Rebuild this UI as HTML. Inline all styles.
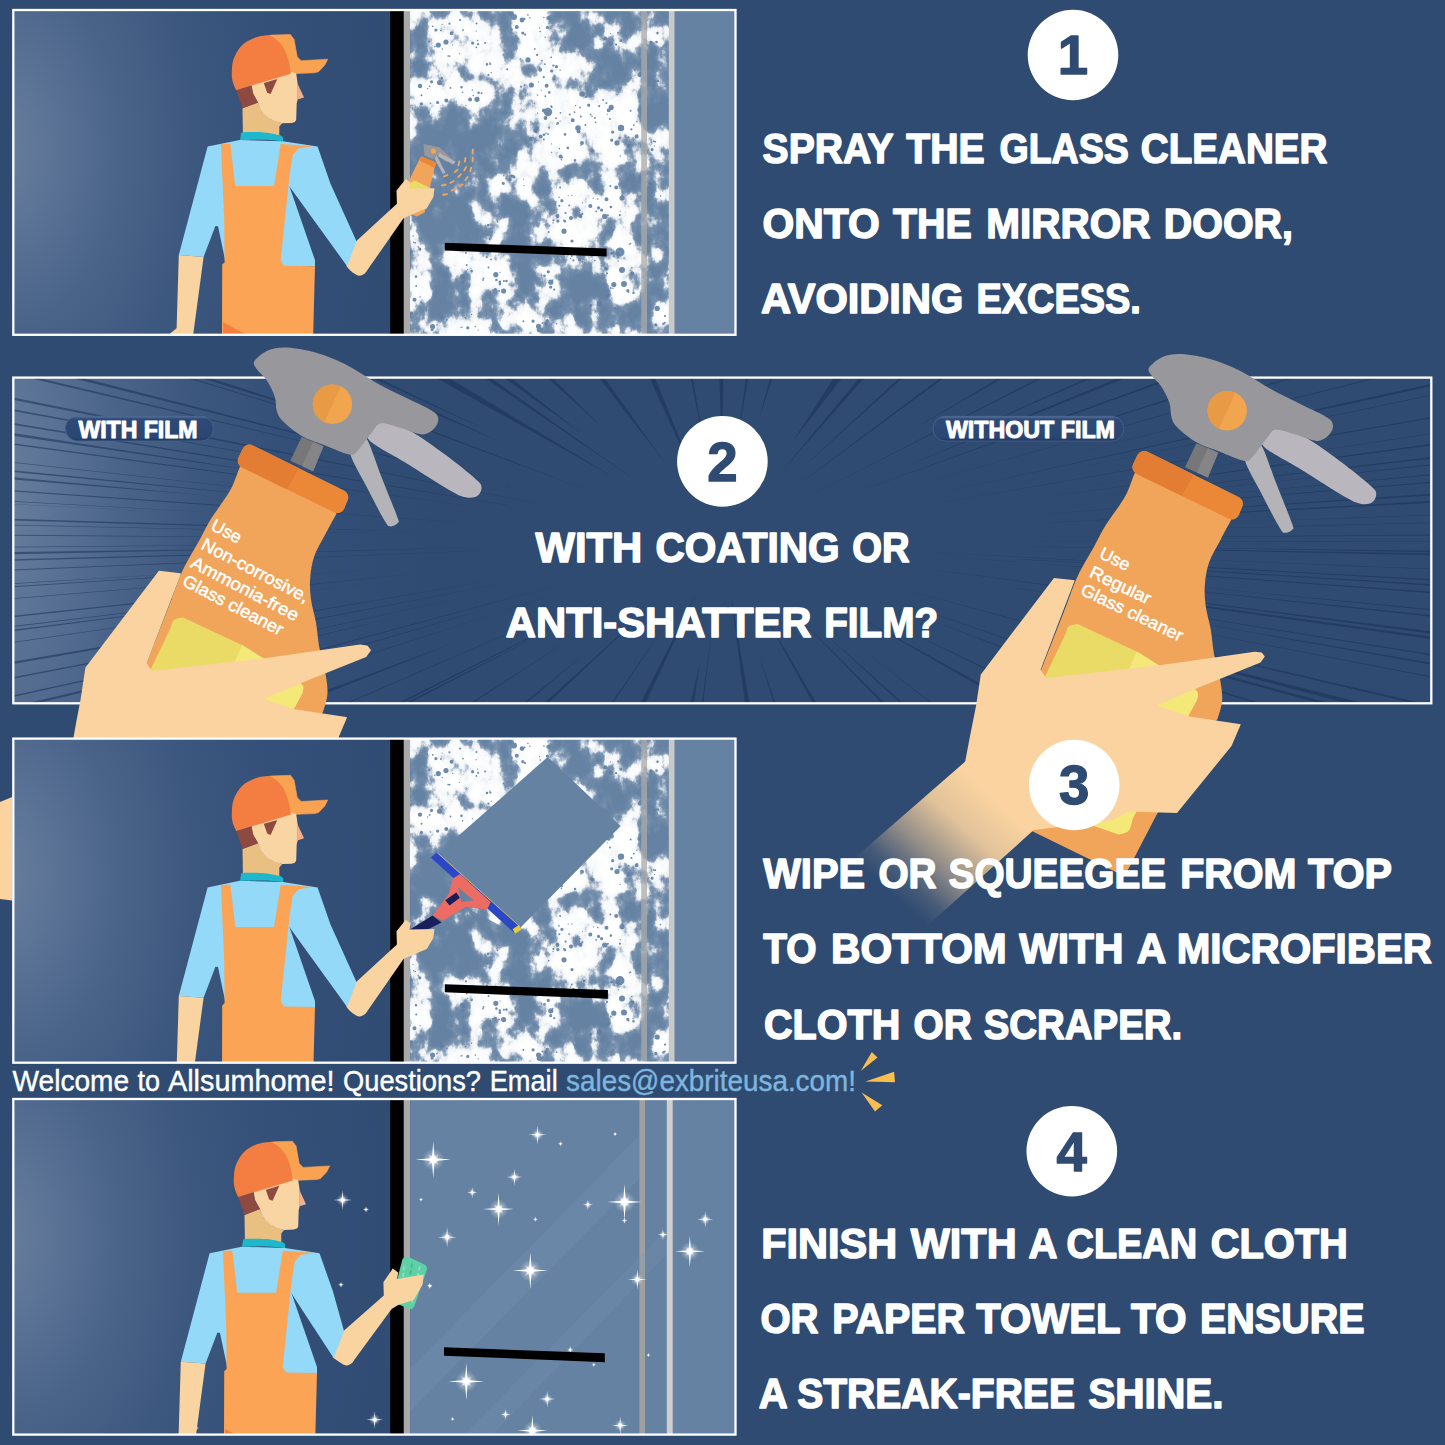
<!DOCTYPE html>
<html lang="en">
<head>
<meta charset="utf-8">
<title>How to clean a mirror door</title>
<style>
html,body{margin:0;padding:0;background:#2f4b72;}
body{width:1445px;height:1445px;overflow:hidden;position:relative;font-family:"Liberation Sans",sans-serif;}
svg{position:absolute;left:0;top:0;display:block}
text{font-family:"Liberation Sans",sans-serif;}
.h{font-weight:700;font-size:42.3px;fill:#fff;stroke:#fff;stroke-width:1.5px;stroke-linejoin:round;}
.w{font-weight:400;font-size:28.6px;fill:#fff;stroke:#fff;stroke-width:0.4px;}
.pl{font-weight:700;font-size:23.2px;fill:#fff;stroke:#fff;stroke-width:1px;stroke-linejoin:round;}
.lb{font-weight:400;font-size:17.6px;fill:#fff;stroke:#fff;stroke-width:0.45px;}
.num{font-weight:700;font-size:54.6px;fill:#2f4b72;stroke:#2f4b72;stroke-width:1.3px;stroke-linejoin:round;text-anchor:middle;}
</style>
</head>
<body>
<svg width="1445" height="1445" viewBox="0 0 1445 1445">
<defs>
<radialGradient id="lg" gradientUnits="userSpaceOnUse" cx="0" cy="150" r="430" gradientTransform="translate(0 150) scale(1 1.5) translate(0 -150)">
<stop offset="0" stop-color="#687e9e"/><stop offset="0.12" stop-color="#5c7496"/><stop offset="0.28" stop-color="#4a6389"/><stop offset="0.45" stop-color="#3d587f"/><stop offset="0.65" stop-color="#345078"/><stop offset="1" stop-color="#2f4b72"/>
</radialGradient>
<filter id="foam" filterUnits="userSpaceOnUse" x="410.2" y="9" width="258.6" height="330" color-interpolation-filters="sRGB">
<feGaussianBlur in="SourceGraphic" stdDeviation="7" result="bias"/>
<feTurbulence type="fractalNoise" baseFrequency="0.05 0.04" numOctaves="5" seed="33" result="t"/>
<feColorMatrix in="t" type="matrix" values="1 0 0 0 0  1 0 0 0 0  1 0 0 0 0  0 0 0 0 1" result="n"/>
<feComposite in="n" in2="bias" operator="arithmetic" k1="0" k2="1" k3="0.55" k4="-0.3050" result="v"/>
<feColorMatrix in="v" type="matrix" values="0 0 0 0 1  0 0 0 0 1  0 0 0 0 1  1 0 0 0 0" result="va"/>
<feComponentTransfer in="va"><feFuncA type="table" tableValues="0 0 0 0 0 0 0 0.02 0.05 0.09 0.16 0.5 0.88 0.95 0.97 0.98 1 1 1 1 1"/></feComponentTransfer>
</filter>
<g id="foambias"><rect x="400" y="0" width="280" height="345" fill="#808080"/>
<rect x="400" y="175" width="280" height="170" fill="#000" opacity="0.1"/>
<ellipse cx="458" cy="37" rx="34" ry="25" fill="#fff" opacity="1"/>
<ellipse cx="449" cy="94" rx="40" ry="19" fill="#fff" opacity="1"/>
<ellipse cx="529" cy="28" rx="30" ry="21" fill="#fff" opacity="1"/>
<ellipse cx="523" cy="68" rx="42" ry="25" fill="#fff" opacity="0.8"/>
<ellipse cx="567" cy="119" rx="48" ry="48" fill="#fff" opacity="1"/>
<ellipse cx="620" cy="129" rx="21" ry="34" fill="#fff" opacity="1"/>
<ellipse cx="614" cy="43" rx="13" ry="17" fill="#fff" opacity="0.6"/>
<ellipse cx="639" cy="75" rx="8" ry="8" fill="#fff" opacity="0.8"/>
<ellipse cx="515" cy="183" rx="21" ry="15" fill="#fff" opacity="1"/>
<ellipse cx="565" cy="214" rx="25" ry="32" fill="#fff" opacity="1"/>
<ellipse cx="610" cy="204" rx="23" ry="25" fill="#fff" opacity="0.9"/>
<ellipse cx="620" cy="273" rx="19" ry="42" fill="#fff" opacity="1"/>
<ellipse cx="492" cy="278" rx="21" ry="29" fill="#fff" opacity="1"/>
<ellipse cx="416" cy="284" rx="8" ry="46" fill="#fff" opacity="0.9"/>
<ellipse cx="466" cy="269" rx="10" ry="19" fill="#fff" opacity="0.9"/>
<ellipse cx="546" cy="286" rx="11" ry="17" fill="#fff" opacity="0.9"/>
<ellipse cx="462" cy="324" rx="38" ry="13" fill="#fff" opacity="0.9"/>
<ellipse cx="538" cy="324" rx="29" ry="12" fill="#fff" opacity="0.9"/>
<ellipse cx="595" cy="299" rx="8" ry="11" fill="#fff" opacity="0.8"/>
<ellipse cx="576" cy="259" rx="25" ry="9" fill="#fff" opacity="0.8"/>
<ellipse cx="494" cy="231" rx="17" ry="13" fill="#fff" opacity="0.8"/>
<ellipse cx="418" cy="246" rx="9" ry="15" fill="#fff" opacity="0.9"/>
<ellipse cx="658" cy="189" rx="10" ry="15" fill="#fff" opacity="0.9"/>
<ellipse cx="662" cy="252" rx="7" ry="11" fill="#fff" opacity="0.9"/>
<ellipse cx="662" cy="318" rx="9" ry="15" fill="#fff" opacity="0.9"/>
<ellipse cx="660" cy="85" rx="8" ry="9" fill="#fff" opacity="0.7"/>
<ellipse cx="658" cy="146" rx="9" ry="11" fill="#fff" opacity="0.7"/>
<ellipse cx="655" cy="40" rx="6" ry="10" fill="#fff" opacity="0.4"/>
<ellipse cx="614" cy="72" rx="17" ry="17" fill="#000" opacity="0.9"/>
<ellipse cx="576" cy="26" rx="13" ry="13" fill="#000" opacity="0.6"/>
<ellipse cx="452" cy="150" rx="40" ry="25" fill="#000" opacity="0.9"/>
<ellipse cx="500" cy="30" rx="7" ry="10" fill="#000" opacity="0.8"/>
<ellipse cx="531" cy="129" rx="11" ry="10" fill="#000" opacity="0.8"/>
<ellipse cx="443" cy="218" rx="27" ry="27" fill="#000" opacity="0.9"/>
<ellipse cx="523" cy="246" rx="10" ry="44" fill="#000" opacity="0.9"/>
<ellipse cx="586" cy="294" rx="17" ry="27" fill="#000" opacity="0.8"/>
<ellipse cx="443" cy="294" rx="11" ry="29" fill="#000" opacity="0.9"/>
<ellipse cx="420" cy="60" rx="7" ry="30" fill="#000" opacity="0.7"/>
<ellipse cx="655" cy="110" rx="8" ry="20" fill="#000" opacity="0.8"/>
<ellipse cx="655" cy="285" rx="6" ry="18" fill="#000" opacity="0.8"/>
<ellipse cx="600" cy="240" rx="10" ry="12" fill="#000" opacity="0.6"/></g>
<g id="bubbles"><path d="M452.7 44.8m-0.6 0a0.6 0.6 0 1 0 1.2 0a0.6 0.6 0 1 0 -1.2 0M478.1 44.2m-1.1 0a1.1 1.1 0 1 0 2.2 0a1.1 1.1 0 1 0 -2.2 0M432.7 26.3m-0.9 0a0.9 0.9 0 1 0 1.8 0a0.9 0.9 0 1 0 -1.8 0M477.6 40.5m-0.7 0a0.7 0.7 0 1 0 1.4 0a0.7 0.7 0 1 0 -1.4 0M459.3 53.7m-0.6 0a0.6 0.6 0 1 0 1.2 0a0.6 0.6 0 1 0 -1.2 0M463.0 30.0m-0.9 0a0.9 0.9 0 1 0 1.8 0a0.9 0.9 0 1 0 -1.8 0M442.1 24.4m-0.6 0a0.6 0.6 0 1 0 1.2 0a0.6 0.6 0 1 0 -1.2 0M440.9 30.4m-0.9 0a0.9 0.9 0 1 0 1.8 0a0.9 0.9 0 1 0 -1.8 0M485.1 43.0m-1.0 0a1.0 1.0 0 1 0 2.0 0a1.0 1.0 0 1 0 -2.0 0M438.3 45.0m-2.6 0a2.6 2.6 0 1 0 5.2 0a2.6 2.6 0 1 0 -5.2 0M448.1 56.0m-0.8 0a0.8 0.8 0 1 0 1.6 0a0.8 0.8 0 1 0 -1.6 0M476.4 47.3m-0.9 0a0.9 0.9 0 1 0 1.8 0a0.9 0.9 0 1 0 -1.8 0M442.3 49.0m-0.7 0a0.7 0.7 0 1 0 1.4 0a0.7 0.7 0 1 0 -1.4 0M435.9 30.0m-1.6 0a1.6 1.6 0 1 0 3.2 0a1.6 1.6 0 1 0 -3.2 0M449.5 23.7m-1.1 0a1.1 1.1 0 1 0 2.2 0a1.1 1.1 0 1 0 -2.2 0M429.3 41.6m-1.1 0a1.1 1.1 0 1 0 2.2 0a1.1 1.1 0 1 0 -2.2 0M449.6 56.1m-0.9 0a0.9 0.9 0 1 0 1.8 0a0.9 0.9 0 1 0 -1.8 0M472.6 43.1m-1.6 0a1.6 1.6 0 1 0 3.2 0a1.6 1.6 0 1 0 -3.2 0M476.5 23.4m-1.0 0a1.0 1.0 0 1 0 2.0 0a1.0 1.0 0 1 0 -2.0 0M451.6 33.2m-2.0 0a2.0 2.0 0 1 0 4.0 0a2.0 2.0 0 1 0 -4.0 0M434.8 46.6m-0.8 0a0.8 0.8 0 1 0 1.6 0a0.8 0.8 0 1 0 -1.6 0M476.1 31.1m-0.7 0a0.7 0.7 0 1 0 1.4 0a0.7 0.7 0 1 0 -1.4 0M460.1 20.0m-1.1 0a1.1 1.1 0 1 0 2.2 0a1.1 1.1 0 1 0 -2.2 0M437.6 102.5m-1.6 0a1.6 1.6 0 1 0 3.2 0a1.6 1.6 0 1 0 -3.2 0M427.7 88.4m-0.7 0a0.7 0.7 0 1 0 1.4 0a0.7 0.7 0 1 0 -1.4 0M472.3 90.0m-0.7 0a0.7 0.7 0 1 0 1.4 0a0.7 0.7 0 1 0 -1.4 0M477.0 99.3m-2.6 0a2.6 2.6 0 1 0 5.2 0a2.6 2.6 0 1 0 -5.2 0M481.6 93.3m-1.0 0a1.0 1.0 0 1 0 2.0 0a1.0 1.0 0 1 0 -2.0 0M441.9 78.2m-1.1 0a1.1 1.1 0 1 0 2.2 0a1.1 1.1 0 1 0 -2.2 0M473.2 95.6m-0.8 0a0.8 0.8 0 1 0 1.6 0a0.8 0.8 0 1 0 -1.6 0M429.6 86.3m-0.9 0a0.9 0.9 0 1 0 1.8 0a0.9 0.9 0 1 0 -1.8 0M450.5 87.9m-0.9 0a0.9 0.9 0 1 0 1.8 0a0.9 0.9 0 1 0 -1.8 0M421.4 103.8m-1.6 0a1.6 1.6 0 1 0 3.2 0a1.6 1.6 0 1 0 -3.2 0M470.1 99.6m-2.0 0a2.0 2.0 0 1 0 4.0 0a2.0 2.0 0 1 0 -4.0 0M446.7 100.2m-1.3 0a1.3 1.3 0 1 0 2.6 0a1.3 1.3 0 1 0 -2.6 0M461.5 87.2m-1.3 0a1.3 1.3 0 1 0 2.6 0a1.3 1.3 0 1 0 -2.6 0M478.6 92.8m-1.3 0a1.3 1.3 0 1 0 2.6 0a1.3 1.3 0 1 0 -2.6 0M462.5 92.3m-0.8 0a0.8 0.8 0 1 0 1.6 0a0.8 0.8 0 1 0 -1.6 0M466.0 105.3m-0.6 0a0.6 0.6 0 1 0 1.2 0a0.6 0.6 0 1 0 -1.2 0M421.5 95.2m-1.0 0a1.0 1.0 0 1 0 2.0 0a1.0 1.0 0 1 0 -2.0 0M446.3 100.4m-2.0 0a2.0 2.0 0 1 0 4.0 0a2.0 2.0 0 1 0 -4.0 0M430.5 103.4m-0.8 0a0.8 0.8 0 1 0 1.6 0a0.8 0.8 0 1 0 -1.6 0M439.6 82.6m-2.6 0a2.6 2.6 0 1 0 5.2 0a2.6 2.6 0 1 0 -5.2 0M431.6 81.8m-1.6 0a1.6 1.6 0 1 0 3.2 0a1.6 1.6 0 1 0 -3.2 0M548.3 18.1m-2.0 0a2.0 2.0 0 1 0 4.0 0a2.0 2.0 0 1 0 -4.0 0M515.7 35.5m-0.7 0a0.7 0.7 0 1 0 1.4 0a0.7 0.7 0 1 0 -1.4 0M512.0 29.4m-0.9 0a0.9 0.9 0 1 0 1.8 0a0.9 0.9 0 1 0 -1.8 0M540.2 31.5m-0.8 0a0.8 0.8 0 1 0 1.6 0a0.8 0.8 0 1 0 -1.6 0M545.1 37.3m-0.7 0a0.7 0.7 0 1 0 1.4 0a0.7 0.7 0 1 0 -1.4 0M539.5 28.0m-0.7 0a0.7 0.7 0 1 0 1.4 0a0.7 0.7 0 1 0 -1.4 0M549.1 23.3m-0.7 0a0.7 0.7 0 1 0 1.4 0a0.7 0.7 0 1 0 -1.4 0M543.9 17.5m-0.8 0a0.8 0.8 0 1 0 1.6 0a0.8 0.8 0 1 0 -1.6 0M511.5 14.2m-2.6 0a2.6 2.6 0 1 0 5.2 0a2.6 2.6 0 1 0 -5.2 0M522.8 33.0m-1.6 0a1.6 1.6 0 1 0 3.2 0a1.6 1.6 0 1 0 -3.2 0M547.4 27.4m-1.6 0a1.6 1.6 0 1 0 3.2 0a1.6 1.6 0 1 0 -3.2 0M525.1 34.6m-1.1 0a1.1 1.1 0 1 0 2.2 0a1.1 1.1 0 1 0 -2.2 0M527.9 14.9m-0.8 0a0.8 0.8 0 1 0 1.6 0a0.8 0.8 0 1 0 -1.6 0M516.8 27.1m-2.0 0a2.0 2.0 0 1 0 4.0 0a2.0 2.0 0 1 0 -4.0 0M514.5 40.0m-0.6 0a0.6 0.6 0 1 0 1.2 0a0.6 0.6 0 1 0 -1.2 0M529.8 17.7m-0.7 0a0.7 0.7 0 1 0 1.4 0a0.7 0.7 0 1 0 -1.4 0M524.4 18.9m-1.1 0a1.1 1.1 0 1 0 2.2 0a1.1 1.1 0 1 0 -2.2 0M541.9 60.7m-0.9 0a0.9 0.9 0 1 0 1.8 0a0.9 0.9 0 1 0 -1.8 0M490.3 64.0m-1.1 0a1.1 1.1 0 1 0 2.2 0a1.1 1.1 0 1 0 -2.2 0M503.6 54.7m-0.9 0a0.9 0.9 0 1 0 1.8 0a0.9 0.9 0 1 0 -1.8 0M534.8 48.9m-0.9 0a0.9 0.9 0 1 0 1.8 0a0.9 0.9 0 1 0 -1.8 0M531.2 83.0m-0.6 0a0.6 0.6 0 1 0 1.2 0a0.6 0.6 0 1 0 -1.2 0M556.5 66.7m-1.6 0a1.6 1.6 0 1 0 3.2 0a1.6 1.6 0 1 0 -3.2 0M521.2 86.7m-1.1 0a1.1 1.1 0 1 0 2.2 0a1.1 1.1 0 1 0 -2.2 0M488.4 75.1m-1.1 0a1.1 1.1 0 1 0 2.2 0a1.1 1.1 0 1 0 -2.2 0M544.9 64.2m-0.9 0a0.9 0.9 0 1 0 1.8 0a0.9 0.9 0 1 0 -1.8 0M543.8 77.2m-1.1 0a1.1 1.1 0 1 0 2.2 0a1.1 1.1 0 1 0 -2.2 0M531.4 85.0m-2.6 0a2.6 2.6 0 1 0 5.2 0a2.6 2.6 0 1 0 -5.2 0M537.1 54.9m-1.1 0a1.1 1.1 0 1 0 2.2 0a1.1 1.1 0 1 0 -2.2 0M526.4 61.8m-0.7 0a0.7 0.7 0 1 0 1.4 0a0.7 0.7 0 1 0 -1.4 0M551.2 57.3m-0.9 0a0.9 0.9 0 1 0 1.8 0a0.9 0.9 0 1 0 -1.8 0M507.2 69.3m-1.1 0a1.1 1.1 0 1 0 2.2 0a1.1 1.1 0 1 0 -2.2 0M554.4 79.3m-1.3 0a1.3 1.3 0 1 0 2.6 0a1.3 1.3 0 1 0 -2.6 0M491.3 72.5m-0.7 0a0.7 0.7 0 1 0 1.4 0a0.7 0.7 0 1 0 -1.4 0M520.5 58.8m-0.8 0a0.8 0.8 0 1 0 1.6 0a0.8 0.8 0 1 0 -1.6 0M551.6 71.0m-1.6 0a1.6 1.6 0 1 0 3.2 0a1.6 1.6 0 1 0 -3.2 0M528.0 59.9m-2.6 0a2.6 2.6 0 1 0 5.2 0a2.6 2.6 0 1 0 -5.2 0M553.4 65.7m-1.1 0a1.1 1.1 0 1 0 2.2 0a1.1 1.1 0 1 0 -2.2 0M538.6 81.8m-0.6 0a0.6 0.6 0 1 0 1.2 0a0.6 0.6 0 1 0 -1.2 0M560.1 70.0m-0.7 0a0.7 0.7 0 1 0 1.4 0a0.7 0.7 0 1 0 -1.4 0M487.0 64.4m-1.3 0a1.3 1.3 0 1 0 2.6 0a1.3 1.3 0 1 0 -2.6 0M539.6 67.2m-0.9 0a0.9 0.9 0 1 0 1.8 0a0.9 0.9 0 1 0 -1.8 0M540.2 69.8m-2.0 0a2.0 2.0 0 1 0 4.0 0a2.0 2.0 0 1 0 -4.0 0M524.7 85.2m-1.0 0a1.0 1.0 0 1 0 2.0 0a1.0 1.0 0 1 0 -2.0 0M489.8 62.3m-0.6 0a0.6 0.6 0 1 0 1.2 0a0.6 0.6 0 1 0 -1.2 0M588.7 105.2m-1.6 0a1.6 1.6 0 1 0 3.2 0a1.6 1.6 0 1 0 -3.2 0M546.6 85.7m-2.0 0a2.0 2.0 0 1 0 4.0 0a2.0 2.0 0 1 0 -4.0 0M530.7 138.8m-2.0 0a2.0 2.0 0 1 0 4.0 0a2.0 2.0 0 1 0 -4.0 0M578.5 131.3m-2.0 0a2.0 2.0 0 1 0 4.0 0a2.0 2.0 0 1 0 -4.0 0M595.5 122.4m-0.8 0a0.8 0.8 0 1 0 1.6 0a0.8 0.8 0 1 0 -1.6 0M537.5 95.0m-0.8 0a0.8 0.8 0 1 0 1.6 0a0.8 0.8 0 1 0 -1.6 0M580.9 145.3m-0.7 0a0.7 0.7 0 1 0 1.4 0a0.7 0.7 0 1 0 -1.4 0M543.9 110.4m-2.0 0a2.0 2.0 0 1 0 4.0 0a2.0 2.0 0 1 0 -4.0 0M537.6 113.2m-0.7 0a0.7 0.7 0 1 0 1.4 0a0.7 0.7 0 1 0 -1.4 0M574.6 112.1m-0.9 0a0.9 0.9 0 1 0 1.8 0a0.9 0.9 0 1 0 -1.8 0M560.6 156.4m-2.0 0a2.0 2.0 0 1 0 4.0 0a2.0 2.0 0 1 0 -4.0 0M560.1 121.1m-0.7 0a0.7 0.7 0 1 0 1.4 0a0.7 0.7 0 1 0 -1.4 0M535.3 130.8m-2.0 0a2.0 2.0 0 1 0 4.0 0a2.0 2.0 0 1 0 -4.0 0M551.8 107.1m-1.0 0a1.0 1.0 0 1 0 2.0 0a1.0 1.0 0 1 0 -2.0 0M536.9 128.3m-1.6 0a1.6 1.6 0 1 0 3.2 0a1.6 1.6 0 1 0 -3.2 0M545.5 118.0m-2.0 0a2.0 2.0 0 1 0 4.0 0a2.0 2.0 0 1 0 -4.0 0M596.9 89.6m-1.0 0a1.0 1.0 0 1 0 2.0 0a1.0 1.0 0 1 0 -2.0 0M603.1 100.0m-0.9 0a0.9 0.9 0 1 0 1.8 0a0.9 0.9 0 1 0 -1.8 0M575.6 105.5m-0.7 0a0.7 0.7 0 1 0 1.4 0a0.7 0.7 0 1 0 -1.4 0M548.1 134.2m-0.9 0a0.9 0.9 0 1 0 1.8 0a0.9 0.9 0 1 0 -1.8 0M549.1 127.7m-1.0 0a1.0 1.0 0 1 0 2.0 0a1.0 1.0 0 1 0 -2.0 0M575.7 79.0m-0.8 0a0.8 0.8 0 1 0 1.6 0a0.8 0.8 0 1 0 -1.6 0M599.2 106.1m-1.1 0a1.1 1.1 0 1 0 2.2 0a1.1 1.1 0 1 0 -2.2 0M592.3 150.8m-1.6 0a1.6 1.6 0 1 0 3.2 0a1.6 1.6 0 1 0 -3.2 0M575.0 160.4m-1.3 0a1.3 1.3 0 1 0 2.6 0a1.3 1.3 0 1 0 -2.6 0M580.1 107.5m-0.9 0a0.9 0.9 0 1 0 1.8 0a0.9 0.9 0 1 0 -1.8 0M582.0 143.1m-2.0 0a2.0 2.0 0 1 0 4.0 0a2.0 2.0 0 1 0 -4.0 0M543.9 134.9m-1.1 0a1.1 1.1 0 1 0 2.2 0a1.1 1.1 0 1 0 -2.2 0M551.7 152.4m-0.6 0a0.6 0.6 0 1 0 1.2 0a0.6 0.6 0 1 0 -1.2 0M551.6 143.9m-0.6 0a0.6 0.6 0 1 0 1.2 0a0.6 0.6 0 1 0 -1.2 0M543.8 139.6m-1.0 0a1.0 1.0 0 1 0 2.0 0a1.0 1.0 0 1 0 -2.0 0M556.1 118.2m-0.9 0a0.9 0.9 0 1 0 1.8 0a0.9 0.9 0 1 0 -1.8 0M580.8 116.5m-1.0 0a1.0 1.0 0 1 0 2.0 0a1.0 1.0 0 1 0 -2.0 0M561.4 159.7m-0.8 0a0.8 0.8 0 1 0 1.6 0a0.8 0.8 0 1 0 -1.6 0M565.0 134.4m-1.3 0a1.3 1.3 0 1 0 2.6 0a1.3 1.3 0 1 0 -2.6 0M587.8 90.2m-1.0 0a1.0 1.0 0 1 0 2.0 0a1.0 1.0 0 1 0 -2.0 0M540.7 136.6m-2.0 0a2.0 2.0 0 1 0 4.0 0a2.0 2.0 0 1 0 -4.0 0M534.3 103.5m-0.7 0a0.7 0.7 0 1 0 1.4 0a0.7 0.7 0 1 0 -1.4 0M560.0 157.0m-0.8 0a0.8 0.8 0 1 0 1.6 0a0.8 0.8 0 1 0 -1.6 0M556.6 124.3m-0.6 0a0.6 0.6 0 1 0 1.2 0a0.6 0.6 0 1 0 -1.2 0M541.3 90.1m-0.7 0a0.7 0.7 0 1 0 1.4 0a0.7 0.7 0 1 0 -1.4 0M551.2 106.2m-1.0 0a1.0 1.0 0 1 0 2.0 0a1.0 1.0 0 1 0 -2.0 0M585.9 96.9m-1.1 0a1.1 1.1 0 1 0 2.2 0a1.1 1.1 0 1 0 -2.2 0M594.9 118.0m-1.0 0a1.0 1.0 0 1 0 2.0 0a1.0 1.0 0 1 0 -2.0 0M560.5 112.8m-0.9 0a0.9 0.9 0 1 0 1.8 0a0.9 0.9 0 1 0 -1.8 0M606.4 102.9m-1.0 0a1.0 1.0 0 1 0 2.0 0a1.0 1.0 0 1 0 -2.0 0M585.4 125.0m-1.0 0a1.0 1.0 0 1 0 2.0 0a1.0 1.0 0 1 0 -2.0 0M545.3 96.2m-0.9 0a0.9 0.9 0 1 0 1.8 0a0.9 0.9 0 1 0 -1.8 0M559.4 148.6m-0.8 0a0.8 0.8 0 1 0 1.6 0a0.8 0.8 0 1 0 -1.6 0M562.0 157.4m-1.0 0a1.0 1.0 0 1 0 2.0 0a1.0 1.0 0 1 0 -2.0 0M572.7 120.3m-2.0 0a2.0 2.0 0 1 0 4.0 0a2.0 2.0 0 1 0 -4.0 0M549.2 113.1m-1.6 0a1.6 1.6 0 1 0 3.2 0a1.6 1.6 0 1 0 -3.2 0M567.8 147.9m-1.3 0a1.3 1.3 0 1 0 2.6 0a1.3 1.3 0 1 0 -2.6 0M549.3 92.4m-1.3 0a1.3 1.3 0 1 0 2.6 0a1.3 1.3 0 1 0 -2.6 0M590.6 114.6m-0.9 0a0.9 0.9 0 1 0 1.8 0a0.9 0.9 0 1 0 -1.8 0M592.1 116.2m-0.8 0a0.8 0.8 0 1 0 1.6 0a0.8 0.8 0 1 0 -1.6 0M546.0 133.4m-0.6 0a0.6 0.6 0 1 0 1.2 0a0.6 0.6 0 1 0 -1.2 0M569.7 114.6m-1.0 0a1.0 1.0 0 1 0 2.0 0a1.0 1.0 0 1 0 -2.0 0M557.8 123.3m-1.3 0a1.3 1.3 0 1 0 2.6 0a1.3 1.3 0 1 0 -2.6 0M630.6 110.8m-1.0 0a1.0 1.0 0 1 0 2.0 0a1.0 1.0 0 1 0 -2.0 0M607.2 114.2m-0.6 0a0.6 0.6 0 1 0 1.2 0a0.6 0.6 0 1 0 -1.2 0M612.7 132.1m-1.6 0a1.6 1.6 0 1 0 3.2 0a1.6 1.6 0 1 0 -3.2 0M631.4 129.4m-1.1 0a1.1 1.1 0 1 0 2.2 0a1.1 1.1 0 1 0 -2.2 0M633.8 125.1m-0.9 0a0.9 0.9 0 1 0 1.8 0a0.9 0.9 0 1 0 -1.8 0M637.3 135.2m-0.9 0a0.9 0.9 0 1 0 1.8 0a0.9 0.9 0 1 0 -1.8 0M619.6 129.8m-1.3 0a1.3 1.3 0 1 0 2.6 0a1.3 1.3 0 1 0 -2.6 0M628.6 137.1m-0.9 0a0.9 0.9 0 1 0 1.8 0a0.9 0.9 0 1 0 -1.8 0M620.2 156.0m-0.7 0a0.7 0.7 0 1 0 1.4 0a0.7 0.7 0 1 0 -1.4 0M619.5 138.1m-1.3 0a1.3 1.3 0 1 0 2.6 0a1.3 1.3 0 1 0 -2.6 0M609.9 119.0m-1.0 0a1.0 1.0 0 1 0 2.0 0a1.0 1.0 0 1 0 -2.0 0M617.0 142.9m-2.6 0a2.6 2.6 0 1 0 5.2 0a2.6 2.6 0 1 0 -5.2 0M636.8 121.6m-0.8 0a0.8 0.8 0 1 0 1.6 0a0.8 0.8 0 1 0 -1.6 0M611.2 107.4m-2.6 0a2.6 2.6 0 1 0 5.2 0a2.6 2.6 0 1 0 -5.2 0M611.7 140.2m-1.6 0a1.6 1.6 0 1 0 3.2 0a1.6 1.6 0 1 0 -3.2 0M629.5 150.0m-0.8 0a0.8 0.8 0 1 0 1.6 0a0.8 0.8 0 1 0 -1.6 0M636.6 136.6m-2.0 0a2.0 2.0 0 1 0 4.0 0a2.0 2.0 0 1 0 -4.0 0M608.7 110.2m-2.0 0a2.0 2.0 0 1 0 4.0 0a2.0 2.0 0 1 0 -4.0 0M628.8 146.0m-2.0 0a2.0 2.0 0 1 0 4.0 0a2.0 2.0 0 1 0 -4.0 0M604.4 37.2m-0.6 0a0.6 0.6 0 1 0 1.2 0a0.6 0.6 0 1 0 -1.2 0M618.1 32.6m-0.9 0a0.9 0.9 0 1 0 1.8 0a0.9 0.9 0 1 0 -1.8 0M616.1 44.6m-1.1 0a1.1 1.1 0 1 0 2.2 0a1.1 1.1 0 1 0 -2.2 0M620.9 40.6m-1.6 0a1.6 1.6 0 1 0 3.2 0a1.6 1.6 0 1 0 -3.2 0M605.3 38.6m-2.0 0a2.0 2.0 0 1 0 4.0 0a2.0 2.0 0 1 0 -4.0 0M610.5 33.3m-0.6 0a0.6 0.6 0 1 0 1.2 0a0.6 0.6 0 1 0 -1.2 0M611.0 44.1m-2.0 0a2.0 2.0 0 1 0 4.0 0a2.0 2.0 0 1 0 -4.0 0M640.7 73.7m-2.0 0a2.0 2.0 0 1 0 4.0 0a2.0 2.0 0 1 0 -4.0 0M644.7 77.5m-1.0 0a1.0 1.0 0 1 0 2.0 0a1.0 1.0 0 1 0 -2.0 0M641.4 68.8m-0.9 0a0.9 0.9 0 1 0 1.8 0a0.9 0.9 0 1 0 -1.8 0M513.9 176.9m-1.6 0a1.6 1.6 0 1 0 3.2 0a1.6 1.6 0 1 0 -3.2 0M503.3 183.3m-1.6 0a1.6 1.6 0 1 0 3.2 0a1.6 1.6 0 1 0 -3.2 0M523.6 179.1m-0.6 0a0.6 0.6 0 1 0 1.2 0a0.6 0.6 0 1 0 -1.2 0M503.8 175.7m-0.7 0a0.7 0.7 0 1 0 1.4 0a0.7 0.7 0 1 0 -1.4 0M506.2 178.4m-1.0 0a1.0 1.0 0 1 0 2.0 0a1.0 1.0 0 1 0 -2.0 0M510.0 179.6m-1.6 0a1.6 1.6 0 1 0 3.2 0a1.6 1.6 0 1 0 -3.2 0M524.1 185.6m-0.7 0a0.7 0.7 0 1 0 1.4 0a0.7 0.7 0 1 0 -1.4 0M509.5 172.6m-1.0 0a1.0 1.0 0 1 0 2.0 0a1.0 1.0 0 1 0 -2.0 0M512.4 176.0m-1.6 0a1.6 1.6 0 1 0 3.2 0a1.6 1.6 0 1 0 -3.2 0M557.4 216.1m-2.0 0a2.0 2.0 0 1 0 4.0 0a2.0 2.0 0 1 0 -4.0 0M572.0 241.0m-1.6 0a1.6 1.6 0 1 0 3.2 0a1.6 1.6 0 1 0 -3.2 0M580.2 216.1m-2.0 0a2.0 2.0 0 1 0 4.0 0a2.0 2.0 0 1 0 -4.0 0M579.8 210.2m-1.0 0a1.0 1.0 0 1 0 2.0 0a1.0 1.0 0 1 0 -2.0 0M548.7 232.0m-0.9 0a0.9 0.9 0 1 0 1.8 0a0.9 0.9 0 1 0 -1.8 0M571.0 217.9m-2.0 0a2.0 2.0 0 1 0 4.0 0a2.0 2.0 0 1 0 -4.0 0M564.0 231.2m-2.6 0a2.6 2.6 0 1 0 5.2 0a2.6 2.6 0 1 0 -5.2 0M571.9 195.4m-0.7 0a0.7 0.7 0 1 0 1.4 0a0.7 0.7 0 1 0 -1.4 0M561.9 200.7m-1.6 0a1.6 1.6 0 1 0 3.2 0a1.6 1.6 0 1 0 -3.2 0M557.9 221.1m-1.6 0a1.6 1.6 0 1 0 3.2 0a1.6 1.6 0 1 0 -3.2 0M559.0 197.3m-0.8 0a0.8 0.8 0 1 0 1.6 0a0.8 0.8 0 1 0 -1.6 0M553.1 222.9m-0.7 0a0.7 0.7 0 1 0 1.4 0a0.7 0.7 0 1 0 -1.4 0M565.5 213.0m-1.1 0a1.1 1.1 0 1 0 2.2 0a1.1 1.1 0 1 0 -2.2 0M569.1 205.5m-0.9 0a0.9 0.9 0 1 0 1.8 0a0.9 0.9 0 1 0 -1.8 0M560.1 187.4m-1.0 0a1.0 1.0 0 1 0 2.0 0a1.0 1.0 0 1 0 -2.0 0M564.9 221.3m-1.3 0a1.3 1.3 0 1 0 2.6 0a1.3 1.3 0 1 0 -2.6 0M582.3 213.8m-1.1 0a1.1 1.1 0 1 0 2.2 0a1.1 1.1 0 1 0 -2.2 0M582.5 202.7m-0.6 0a0.6 0.6 0 1 0 1.2 0a0.6 0.6 0 1 0 -1.2 0M564.0 220.4m-1.0 0a1.0 1.0 0 1 0 2.0 0a1.0 1.0 0 1 0 -2.0 0M559.3 205.7m-1.0 0a1.0 1.0 0 1 0 2.0 0a1.0 1.0 0 1 0 -2.0 0M553.4 220.3m-1.1 0a1.1 1.1 0 1 0 2.2 0a1.1 1.1 0 1 0 -2.2 0M568.2 195.6m-0.6 0a0.6 0.6 0 1 0 1.2 0a0.6 0.6 0 1 0 -1.2 0M616.2 187.5m-2.0 0a2.0 2.0 0 1 0 4.0 0a2.0 2.0 0 1 0 -4.0 0M593.3 198.2m-0.6 0a0.6 0.6 0 1 0 1.2 0a0.6 0.6 0 1 0 -1.2 0M622.1 198.1m-2.6 0a2.6 2.6 0 1 0 5.2 0a2.6 2.6 0 1 0 -5.2 0M610.3 185.9m-1.0 0a1.0 1.0 0 1 0 2.0 0a1.0 1.0 0 1 0 -2.0 0M590.3 205.9m-2.0 0a2.0 2.0 0 1 0 4.0 0a2.0 2.0 0 1 0 -4.0 0M619.9 215.1m-1.1 0a1.1 1.1 0 1 0 2.2 0a1.1 1.1 0 1 0 -2.2 0M607.9 215.2m-1.0 0a1.0 1.0 0 1 0 2.0 0a1.0 1.0 0 1 0 -2.0 0M601.6 210.1m-1.6 0a1.6 1.6 0 1 0 3.2 0a1.6 1.6 0 1 0 -3.2 0M597.8 199.0m-0.8 0a0.8 0.8 0 1 0 1.6 0a0.8 0.8 0 1 0 -1.6 0M606.5 199.2m-2.0 0a2.0 2.0 0 1 0 4.0 0a2.0 2.0 0 1 0 -4.0 0M622.1 195.2m-0.9 0a0.9 0.9 0 1 0 1.8 0a0.9 0.9 0 1 0 -1.8 0M598.6 207.8m-1.6 0a1.6 1.6 0 1 0 3.2 0a1.6 1.6 0 1 0 -3.2 0M596.2 211.3m-0.9 0a0.9 0.9 0 1 0 1.8 0a0.9 0.9 0 1 0 -1.8 0M620.2 211.1m-0.7 0a0.7 0.7 0 1 0 1.4 0a0.7 0.7 0 1 0 -1.4 0M604.7 216.4m-2.6 0a2.6 2.6 0 1 0 5.2 0a2.6 2.6 0 1 0 -5.2 0M610.9 207.0m-1.3 0a1.3 1.3 0 1 0 2.6 0a1.3 1.3 0 1 0 -2.6 0M609.1 294.9m-0.9 0a0.9 0.9 0 1 0 1.8 0a0.9 0.9 0 1 0 -1.8 0M612.9 288.4m-0.6 0a0.6 0.6 0 1 0 1.2 0a0.6 0.6 0 1 0 -1.2 0M607.0 273.3m-1.1 0a1.1 1.1 0 1 0 2.2 0a1.1 1.1 0 1 0 -2.2 0M628.5 292.1m-0.9 0a0.9 0.9 0 1 0 1.8 0a0.9 0.9 0 1 0 -1.8 0M633.5 292.7m-1.3 0a1.3 1.3 0 1 0 2.6 0a1.3 1.3 0 1 0 -2.6 0M610.8 287.9m-1.0 0a1.0 1.0 0 1 0 2.0 0a1.0 1.0 0 1 0 -2.0 0M629.3 244.3m-0.6 0a0.6 0.6 0 1 0 1.2 0a0.6 0.6 0 1 0 -1.2 0M627.8 290.7m-1.6 0a1.6 1.6 0 1 0 3.2 0a1.6 1.6 0 1 0 -3.2 0M631.7 267.8m-0.7 0a0.7 0.7 0 1 0 1.4 0a0.7 0.7 0 1 0 -1.4 0M607.2 295.9m-2.0 0a2.0 2.0 0 1 0 4.0 0a2.0 2.0 0 1 0 -4.0 0M630.4 243.6m-0.9 0a0.9 0.9 0 1 0 1.8 0a0.9 0.9 0 1 0 -1.8 0M621.7 255.5m-0.8 0a0.8 0.8 0 1 0 1.6 0a0.8 0.8 0 1 0 -1.6 0M606.0 268.6m-1.6 0a1.6 1.6 0 1 0 3.2 0a1.6 1.6 0 1 0 -3.2 0M633.0 290.0m-0.6 0a0.6 0.6 0 1 0 1.2 0a0.6 0.6 0 1 0 -1.2 0M621.7 255.1m-0.6 0a0.6 0.6 0 1 0 1.2 0a0.6 0.6 0 1 0 -1.2 0M614.2 256.5m-0.8 0a0.8 0.8 0 1 0 1.6 0a0.8 0.8 0 1 0 -1.6 0M611.3 253.4m-1.3 0a1.3 1.3 0 1 0 2.6 0a1.3 1.3 0 1 0 -2.6 0M618.2 261.0m-0.7 0a0.7 0.7 0 1 0 1.4 0a0.7 0.7 0 1 0 -1.4 0M614.8 307.9m-0.9 0a0.9 0.9 0 1 0 1.8 0a0.9 0.9 0 1 0 -1.8 0M613.8 284.6m-2.6 0a2.6 2.6 0 1 0 5.2 0a2.6 2.6 0 1 0 -5.2 0M632.5 273.2m-1.6 0a1.6 1.6 0 1 0 3.2 0a1.6 1.6 0 1 0 -3.2 0M490.1 292.4m-0.9 0a0.9 0.9 0 1 0 1.8 0a0.9 0.9 0 1 0 -1.8 0M483.0 280.0m-0.9 0a0.9 0.9 0 1 0 1.8 0a0.9 0.9 0 1 0 -1.8 0M503.9 281.1m-1.0 0a1.0 1.0 0 1 0 2.0 0a1.0 1.0 0 1 0 -2.0 0M499.8 281.9m-1.3 0a1.3 1.3 0 1 0 2.6 0a1.3 1.3 0 1 0 -2.6 0M499.9 284.1m-1.3 0a1.3 1.3 0 1 0 2.6 0a1.3 1.3 0 1 0 -2.6 0M500.0 272.4m-0.6 0a0.6 0.6 0 1 0 1.2 0a0.6 0.6 0 1 0 -1.2 0M486.7 257.1m-1.1 0a1.1 1.1 0 1 0 2.2 0a1.1 1.1 0 1 0 -2.2 0M488.5 267.4m-1.0 0a1.0 1.0 0 1 0 2.0 0a1.0 1.0 0 1 0 -2.0 0M491.1 259.5m-0.9 0a0.9 0.9 0 1 0 1.8 0a0.9 0.9 0 1 0 -1.8 0M483.5 278.3m-0.9 0a0.9 0.9 0 1 0 1.8 0a0.9 0.9 0 1 0 -1.8 0M493.1 290.2m-1.0 0a1.0 1.0 0 1 0 2.0 0a1.0 1.0 0 1 0 -2.0 0M503.6 291.0m-2.6 0a2.6 2.6 0 1 0 5.2 0a2.6 2.6 0 1 0 -5.2 0M495.4 289.4m-1.3 0a1.3 1.3 0 1 0 2.6 0a1.3 1.3 0 1 0 -2.6 0M495.8 274.7m-2.6 0a2.6 2.6 0 1 0 5.2 0a2.6 2.6 0 1 0 -5.2 0M499.2 291.0m-0.9 0a0.9 0.9 0 1 0 1.8 0a0.9 0.9 0 1 0 -1.8 0M506.4 281.0m-1.3 0a1.3 1.3 0 1 0 2.6 0a1.3 1.3 0 1 0 -2.6 0M496.4 280.0m-1.3 0a1.3 1.3 0 1 0 2.6 0a1.3 1.3 0 1 0 -2.6 0M415.2 242.9m-0.8 0a0.8 0.8 0 1 0 1.6 0a0.8 0.8 0 1 0 -1.6 0M414.5 299.7m-2.0 0a2.0 2.0 0 1 0 4.0 0a2.0 2.0 0 1 0 -4.0 0M416.0 276.6m-1.3 0a1.3 1.3 0 1 0 2.6 0a1.3 1.3 0 1 0 -2.6 0M419.8 249.2m-1.6 0a1.6 1.6 0 1 0 3.2 0a1.6 1.6 0 1 0 -3.2 0M416.2 285.9m-1.0 0a1.0 1.0 0 1 0 2.0 0a1.0 1.0 0 1 0 -2.0 0M420.1 297.0m-0.7 0a0.7 0.7 0 1 0 1.4 0a0.7 0.7 0 1 0 -1.4 0M411.9 313.4m-1.3 0a1.3 1.3 0 1 0 2.6 0a1.3 1.3 0 1 0 -2.6 0M421.2 302.2m-0.9 0a0.9 0.9 0 1 0 1.8 0a0.9 0.9 0 1 0 -1.8 0M411.2 312.5m-0.9 0a0.9 0.9 0 1 0 1.8 0a0.9 0.9 0 1 0 -1.8 0M462.6 282.2m-1.6 0a1.6 1.6 0 1 0 3.2 0a1.6 1.6 0 1 0 -3.2 0M471.7 271.1m-1.3 0a1.3 1.3 0 1 0 2.6 0a1.3 1.3 0 1 0 -2.6 0M467.6 269.8m-0.7 0a0.7 0.7 0 1 0 1.4 0a0.7 0.7 0 1 0 -1.4 0M466.7 265.0m-0.9 0a0.9 0.9 0 1 0 1.8 0a0.9 0.9 0 1 0 -1.8 0M465.9 252.8m-1.1 0a1.1 1.1 0 1 0 2.2 0a1.1 1.1 0 1 0 -2.2 0M462.6 276.5m-2.6 0a2.6 2.6 0 1 0 5.2 0a2.6 2.6 0 1 0 -5.2 0M554.2 289.6m-1.1 0a1.1 1.1 0 1 0 2.2 0a1.1 1.1 0 1 0 -2.2 0M550.8 282.2m-2.6 0a2.6 2.6 0 1 0 5.2 0a2.6 2.6 0 1 0 -5.2 0M552.8 279.9m-0.7 0a0.7 0.7 0 1 0 1.4 0a0.7 0.7 0 1 0 -1.4 0M550.7 287.1m-1.6 0a1.6 1.6 0 1 0 3.2 0a1.6 1.6 0 1 0 -3.2 0M544.5 275.8m-1.3 0a1.3 1.3 0 1 0 2.6 0a1.3 1.3 0 1 0 -2.6 0M548.3 271.8m-1.6 0a1.6 1.6 0 1 0 3.2 0a1.6 1.6 0 1 0 -3.2 0M478.2 330.1m-0.6 0a0.6 0.6 0 1 0 1.2 0a0.6 0.6 0 1 0 -1.2 0M471.5 314.5m-0.8 0a0.8 0.8 0 1 0 1.6 0a0.8 0.8 0 1 0 -1.6 0M446.7 319.8m-1.1 0a1.1 1.1 0 1 0 2.2 0a1.1 1.1 0 1 0 -2.2 0M432.6 326.5m-2.6 0a2.6 2.6 0 1 0 5.2 0a2.6 2.6 0 1 0 -5.2 0M475.4 326.5m-0.8 0a0.8 0.8 0 1 0 1.6 0a0.8 0.8 0 1 0 -1.6 0M462.1 327.0m-0.6 0a0.6 0.6 0 1 0 1.2 0a0.6 0.6 0 1 0 -1.2 0M436.9 325.0m-0.8 0a0.8 0.8 0 1 0 1.6 0a0.8 0.8 0 1 0 -1.6 0M493.9 322.6m-0.7 0a0.7 0.7 0 1 0 1.4 0a0.7 0.7 0 1 0 -1.4 0M461.1 327.4m-0.7 0a0.7 0.7 0 1 0 1.4 0a0.7 0.7 0 1 0 -1.4 0M432.1 329.5m-1.6 0a1.6 1.6 0 1 0 3.2 0a1.6 1.6 0 1 0 -3.2 0M467.8 327.8m-1.6 0a1.6 1.6 0 1 0 3.2 0a1.6 1.6 0 1 0 -3.2 0M441.6 317.4m-2.0 0a2.0 2.0 0 1 0 4.0 0a2.0 2.0 0 1 0 -4.0 0M478.0 316.2m-0.7 0a0.7 0.7 0 1 0 1.4 0a0.7 0.7 0 1 0 -1.4 0M465.4 317.8m-1.0 0a1.0 1.0 0 1 0 2.0 0a1.0 1.0 0 1 0 -2.0 0M523.4 321.3m-1.0 0a1.0 1.0 0 1 0 2.0 0a1.0 1.0 0 1 0 -2.0 0M542.1 329.1m-0.9 0a0.9 0.9 0 1 0 1.8 0a0.9 0.9 0 1 0 -1.8 0M539.3 329.7m-2.6 0a2.6 2.6 0 1 0 5.2 0a2.6 2.6 0 1 0 -5.2 0M540.5 326.5m-1.0 0a1.0 1.0 0 1 0 2.0 0a1.0 1.0 0 1 0 -2.0 0M556.6 323.6m-0.9 0a0.9 0.9 0 1 0 1.8 0a0.9 0.9 0 1 0 -1.8 0M533.1 321.2m-1.6 0a1.6 1.6 0 1 0 3.2 0a1.6 1.6 0 1 0 -3.2 0M546.3 323.8m-1.6 0a1.6 1.6 0 1 0 3.2 0a1.6 1.6 0 1 0 -3.2 0M547.3 320.5m-1.6 0a1.6 1.6 0 1 0 3.2 0a1.6 1.6 0 1 0 -3.2 0M542.5 322.9m-1.0 0a1.0 1.0 0 1 0 2.0 0a1.0 1.0 0 1 0 -2.0 0M538.6 326.4m-2.6 0a2.6 2.6 0 1 0 5.2 0a2.6 2.6 0 1 0 -5.2 0M600.4 297.7m-0.7 0a0.7 0.7 0 1 0 1.4 0a0.7 0.7 0 1 0 -1.4 0M590.3 305.6m-1.6 0a1.6 1.6 0 1 0 3.2 0a1.6 1.6 0 1 0 -3.2 0M589.9 293.7m-0.6 0a0.6 0.6 0 1 0 1.2 0a0.6 0.6 0 1 0 -1.2 0M599.4 303.7m-2.6 0a2.6 2.6 0 1 0 5.2 0a2.6 2.6 0 1 0 -5.2 0M573.4 260.3m-1.1 0a1.1 1.1 0 1 0 2.2 0a1.1 1.1 0 1 0 -2.2 0M582.4 261.8m-1.0 0a1.0 1.0 0 1 0 2.0 0a1.0 1.0 0 1 0 -2.0 0M594.7 260.6m-0.9 0a0.9 0.9 0 1 0 1.8 0a0.9 0.9 0 1 0 -1.8 0M584.1 252.3m-1.3 0a1.3 1.3 0 1 0 2.6 0a1.3 1.3 0 1 0 -2.6 0M571.8 255.9m-1.0 0a1.0 1.0 0 1 0 2.0 0a1.0 1.0 0 1 0 -2.0 0M579.5 259.7m-1.6 0a1.6 1.6 0 1 0 3.2 0a1.6 1.6 0 1 0 -3.2 0M570.6 258.4m-0.7 0a0.7 0.7 0 1 0 1.4 0a0.7 0.7 0 1 0 -1.4 0M497.5 221.9m-0.8 0a0.8 0.8 0 1 0 1.6 0a0.8 0.8 0 1 0 -1.6 0M491.0 228.3m-0.8 0a0.8 0.8 0 1 0 1.6 0a0.8 0.8 0 1 0 -1.6 0M487.6 234.6m-1.0 0a1.0 1.0 0 1 0 2.0 0a1.0 1.0 0 1 0 -2.0 0M489.1 224.4m-0.6 0a0.6 0.6 0 1 0 1.2 0a0.6 0.6 0 1 0 -1.2 0M489.6 239.1m-1.1 0a1.1 1.1 0 1 0 2.2 0a1.1 1.1 0 1 0 -2.2 0M492.2 231.8m-1.1 0a1.1 1.1 0 1 0 2.2 0a1.1 1.1 0 1 0 -2.2 0M488.1 225.2m-1.3 0a1.3 1.3 0 1 0 2.6 0a1.3 1.3 0 1 0 -2.6 0M418.2 247.0m-0.8 0a0.8 0.8 0 1 0 1.6 0a0.8 0.8 0 1 0 -1.6 0M411.5 251.6m-1.3 0a1.3 1.3 0 1 0 2.6 0a1.3 1.3 0 1 0 -2.6 0M413.7 242.2m-0.8 0a0.8 0.8 0 1 0 1.6 0a0.8 0.8 0 1 0 -1.6 0M419.3 248.2m-0.8 0a0.8 0.8 0 1 0 1.6 0a0.8 0.8 0 1 0 -1.6 0M413.1 236.0m-0.7 0a0.7 0.7 0 1 0 1.4 0a0.7 0.7 0 1 0 -1.4 0M650.2 183.3m-2.0 0a2.0 2.0 0 1 0 4.0 0a2.0 2.0 0 1 0 -4.0 0M660.5 196.0m-0.8 0a0.8 0.8 0 1 0 1.6 0a0.8 0.8 0 1 0 -1.6 0M649.4 187.3m-0.7 0a0.7 0.7 0 1 0 1.4 0a0.7 0.7 0 1 0 -1.4 0M652.2 196.8m-0.9 0a0.9 0.9 0 1 0 1.8 0a0.9 0.9 0 1 0 -1.8 0M655.4 200.7m-0.6 0a0.6 0.6 0 1 0 1.2 0a0.6 0.6 0 1 0 -1.2 0M666.3 250.9m-0.6 0a0.6 0.6 0 1 0 1.2 0a0.6 0.6 0 1 0 -1.2 0M658.1 247.1m-0.7 0a0.7 0.7 0 1 0 1.4 0a0.7 0.7 0 1 0 -1.4 0M666.1 247.6m-0.8 0a0.8 0.8 0 1 0 1.6 0a0.8 0.8 0 1 0 -1.6 0M657.2 308.4m-2.6 0a2.6 2.6 0 1 0 5.2 0a2.6 2.6 0 1 0 -5.2 0M655.9 325.0m-1.6 0a1.6 1.6 0 1 0 3.2 0a1.6 1.6 0 1 0 -3.2 0M663.5 323.8m-1.3 0a1.3 1.3 0 1 0 2.6 0a1.3 1.3 0 1 0 -2.6 0M665.0 316.0m-1.1 0a1.1 1.1 0 1 0 2.2 0a1.1 1.1 0 1 0 -2.2 0M664.9 322.7m-0.9 0a0.9 0.9 0 1 0 1.8 0a0.9 0.9 0 1 0 -1.8 0M665.2 86.6m-0.6 0a0.6 0.6 0 1 0 1.2 0a0.6 0.6 0 1 0 -1.2 0M658.0 81.0m-1.3 0a1.3 1.3 0 1 0 2.6 0a1.3 1.3 0 1 0 -2.6 0M655.7 81.5m-1.0 0a1.0 1.0 0 1 0 2.0 0a1.0 1.0 0 1 0 -2.0 0M655.3 141.6m-0.9 0a0.9 0.9 0 1 0 1.8 0a0.9 0.9 0 1 0 -1.8 0M652.1 149.6m-1.6 0a1.6 1.6 0 1 0 3.2 0a1.6 1.6 0 1 0 -3.2 0M654.6 145.9m-0.6 0a0.6 0.6 0 1 0 1.2 0a0.6 0.6 0 1 0 -1.2 0M653.8 141.3m-0.9 0a0.9 0.9 0 1 0 1.8 0a0.9 0.9 0 1 0 -1.8 0M651.0 42.3m-1.6 0a1.6 1.6 0 1 0 3.2 0a1.6 1.6 0 1 0 -3.2 0M657.5 33.1m-1.3 0a1.3 1.3 0 1 0 2.6 0a1.3 1.3 0 1 0 -2.6 0M656.5 42.0m-1.3 0a1.3 1.3 0 1 0 2.6 0a1.3 1.3 0 1 0 -2.6 0M548.0 112.0m-4.2 0a4.2 4.2 0 1 0 8.4 0a4.2 4.2 0 1 0 -8.4 0M620.0 252.0m-4.5 0a4.5 4.5 0 1 0 9.0 0a4.5 4.5 0 1 0 -9.0 0M622.0 270.0m-3.0 0a3.0 3.0 0 1 0 6.0 0a3.0 3.0 0 1 0 -6.0 0M624.0 284.0m-3.0 0a3.0 3.0 0 1 0 6.0 0a3.0 3.0 0 1 0 -6.0 0M446.0 42.0m-2.6 0a2.6 2.6 0 1 0 5.2 0a2.6 2.6 0 1 0 -5.2 0M578.0 128.0m-2.8 0a2.8 2.8 0 1 0 5.6 0a2.8 2.8 0 1 0 -5.6 0M582.0 94.0m-2.8 0a2.8 2.8 0 1 0 5.6 0a2.8 2.8 0 1 0 -5.6 0M621.0 128.0m-3.2 0a3.2 3.2 0 1 0 6.4 0a3.2 3.2 0 1 0 -6.4 0M514.0 17.0m-3.0 0a3.0 3.0 0 1 0 6.0 0a3.0 3.0 0 1 0 -6.0 0M522.0 20.0m-2.4 0a2.4 2.4 0 1 0 4.8 0a2.4 2.4 0 1 0 -4.8 0M640.0 75.0m-2.2 0a2.2 2.2 0 1 0 4.4 0a2.2 2.2 0 1 0 -4.4 0M420.0 86.0m-2.2 0a2.2 2.2 0 1 0 4.4 0a2.2 2.2 0 1 0 -4.4 0" fill="#5f7ea3" opacity="0.9"/></g>
<clipPath id="cp1"><rect x="13.3" y="10" width="722.2" height="324.8"/></clipPath>
<g id="wbody"><path d="M207.6 146.6 L239.7 140.0 L282.9 141.3 L317.6 146.6 L301.7 175.0 L289.5 186.5 L315.0 260.2 L315.0 266.2 L226.4 266.2 L218.0 226.3 L215.4 225.9 L203.6 256.9 L178.8 255.1Z" fill="#94d9f8"/>
<path d="M220.9 144.0 L230.4 144.0 L235.3 186.1 L274.0 186.1 L280.7 144.0 L312.8 146.2 L298.4 148.4 L292.8 155.1 L290.2 170.6 L288.4 186.1 L280.7 260.2 L284.0 265.8 L315.0 266.2 L313.2 334.4 L222.0 334.4 L222.2 264.6 L224.6 262.4 L224.2 219.3Z" fill="#fba455"/>
<path d="M178.8 255.1 L203.6 256.9 L193.2 334.4 L168.9 334.4 L176.6 328.2Z" fill="#f9d3a0"/>
<path d="M223.1 322.2 L246.3 334.4 L223.1 334.4Z" fill="#f4803f"/>
<path d="M262.3 36.7 L272.0 35.1 L290.4 34.5 L294.1 39.4 L297.2 56.8 L301.1 60.7 L327.7 59.2 L324.8 65.1 L318.5 71.8 L314.6 72.8 L290.9 73.8 L277.8 68.4Z" fill="#f9a251" stroke="#f9a251" stroke-width="0.6" stroke-linejoin="round"/>
<path d="M242.5 108.2 L258.0 102.4 L262.3 112.0 L272.0 119.8 L282.2 123.2 L279.3 126.6 L279.3 135.8 L242.9 132.9Z" fill="#eabf82"/>
<path d="M251.7 83.9 L290.9 71.8 L296.2 73.3 L297.7 83.9 L297.7 99.4 L296.7 103.3 L296.2 119.8 C296.0 120.2 295.5 121.4 294.8 121.9 C294.1 122.4 292.4 122.7 291.9 122.9 L282.2 123.2 C280.5 122.6 275.3 121.7 272.0 119.8 C268.7 117.9 264.7 115.0 262.3 112.0 C260.0 109.1 259.5 105.4 258.0 102.4 C256.4 99.3 254.2 96.4 253.1 93.6 C252.1 90.9 251.9 87.2 251.7 85.9Z" fill="#f9d5a3"/>
<path d="M297.5 83.5 L304.0 97.5 L297.5 99.6Z" fill="#f6ae8b"/>
<path d="M236.2 90.2 L251.7 85.9 L253.1 93.6 L258.0 102.4 L242.5 108.2Z" fill="#8e4a40"/>
<path d="M263.8 83.0 L277.3 79.1 L270.6 94.1 L267.2 92.7Z" fill="#8e4a40"/>
<path d="M236.2 90.2 C235.6 88.9 233.5 85.0 232.8 82.0 C232.0 79.0 231.6 76.2 231.8 72.3 C232.0 68.4 232.0 63.3 233.7 58.8 C235.4 54.2 238.3 48.7 242.0 45.2 C245.6 41.6 250.9 39.0 255.5 37.4 C260.2 35.9 265.7 34.7 270.1 36.0 C274.4 37.3 278.7 41.4 281.7 45.2 C284.7 49.0 286.5 54.0 288.0 58.8 C289.5 63.5 290.4 71.3 290.9 73.8 L236.2 90.2Z" fill="#f47e42"/>
<path d="M240.0 140.1 L241.0 134.3 C241.4 134.0 239.6 132.5 243.4 132.2 C247.3 131.9 258.2 131.9 264.3 132.4 C270.3 132.9 276.6 134.4 279.8 135.3 C282.9 136.2 282.6 137.3 283.2 137.7 L283.2 141.3 C280.0 141.0 271.4 139.9 264.3 139.7 C257.1 139.5 244.1 140.1 240.0 140.1Z" fill="#1fb7cb"/></g>
<g id="warm1"><path d="M346.4 266.2 L355.9 241.4 L396.9 203.8 L396.5 190.5 L405.8 179.0 L410.6 182.7 L409.1 188.7 L434.5 188.3 L433.4 197.1 L426.8 208.2 L411.3 214.8 L403.5 218.2 L368.1 269.1 C367.6 269.8 366.3 272.4 364.8 273.5 C363.3 274.6 361.2 275.8 359.3 275.7 C357.3 275.6 355.2 274.4 353.1 272.8 C350.9 271.3 347.5 267.3 346.4 266.2Z" fill="#f9d3a0"/>
<path d="M317.6 146.6 L330.5 183.8 L356.6 241.4 L347.1 266.2 L289.5 186.5 L297.3 161.7Z" fill="#94d9f8"/></g>
<g id="warm4"><path d="M330.9 250.9 L341.5 224.4 L381.8 188.9 L381.4 175.6 L390.7 161.9 L396.2 165.7 L395.1 172.3 L421.7 167.9 L420.6 177.9 L411.7 193.4 L396.2 198.2 L389.6 202.2 L353.1 252.0 C352.5 252.8 351.2 255.3 349.7 256.5 C348.3 257.6 346.2 258.8 344.2 258.7 C342.2 258.6 340.2 257.1 338.0 255.8 C335.8 254.5 332.1 251.7 330.9 250.9Z" fill="#f9d3a0"/>
<path d="M317.6 146.9 L330.9 184.5 L342.0 224.4 L331.6 251.4 L289.5 186.7 L297.3 161.9Z" fill="#94d9f8"/></g>
<clipPath id="cp3"><rect x="13.3" y="10" width="722.2" height="324"/></clipPath>
<clipPath id="cp4"><rect x="13.3" y="10" width="722.2" height="335.6"/></clipPath>
<radialGradient id="lg2" gradientUnits="userSpaceOnUse" cx="0" cy="500" r="430" gradientTransform="translate(0 500) scale(1 2.4) translate(0 -500)">
<stop offset="0" stop-color="#687e9e"/><stop offset="0.12" stop-color="#5c7496"/><stop offset="0.28" stop-color="#4a6389"/><stop offset="0.45" stop-color="#3d587f"/><stop offset="0.65" stop-color="#345078"/><stop offset="1" stop-color="#2f4b72"/>
</radialGradient>
<linearGradient id="pillg" x1="0" y1="0" x2="0" y2="1"><stop offset="0" stop-color="#56719a"/><stop offset="0.12" stop-color="#2d4a78"/><stop offset="0.85" stop-color="#2a4672"/><stop offset="1" stop-color="#1f3860"/></linearGradient>
<radialGradient id="glow"><stop offset="0" stop-color="#fff" stop-opacity="1"/><stop offset="0.28" stop-color="#fff" stop-opacity="0.85"/><stop offset="0.5" stop-color="#fff" stop-opacity="0.3"/><stop offset="1" stop-color="#fff" stop-opacity="0"/></radialGradient>
<clipPath id="cp2"><rect x="13.3" y="377.6" width="1418" height="325.7"/></clipPath>
<linearGradient id="wristfade" gradientUnits="userSpaceOnUse" x1="89.2" y1="783.2" x2="-4.2" y2="886.0"><stop offset="0" stop-color="#fad3a0"/><stop offset="0.3" stop-color="#fad3a0" stop-opacity="0.88"/><stop offset="0.6" stop-color="#fad3a0" stop-opacity="0.5"/><stop offset="0.85" stop-color="#fad3a0" stop-opacity="0.12"/><stop offset="1" stop-color="#fad3a0" stop-opacity="0"/></linearGradient>
<g id="bottle"><path d="M301.7 436.9 L323.5 446.3 L313.1 471.2 L290.3 460.8Z" fill="#77777a"/>
<path d="M313.1 441.7 L323.5 446.3 L313.1 471.2 L302.1 466.0Z" fill="#858588"/>
<path d="M376.5 423.4 C379.8 420.8 382.0 421.6 387.9 423.0 C393.8 424.4 402.2 426.5 411.8 431.7 C421.3 437.0 434.3 446.6 445.0 454.6 C455.7 462.5 470.0 473.9 476.1 479.5 C482.2 485.0 481.3 485.0 481.5 487.8 C481.7 490.6 479.8 494.5 477.2 496.1 C474.5 497.7 470.4 498.4 465.7 497.3 C461.1 496.3 458.8 495.4 449.1 489.9 C439.4 484.3 421.1 472.4 407.6 463.9 C394.1 455.4 373.4 445.7 368.2 439.0 C363.0 432.2 373.2 426.1 376.5 423.4Z" fill="#b9b7bd"/>
<path d="M366.1 438.0 C370.1 443.1 376.5 464.3 381.7 477.4 C386.8 490.6 394.6 509.2 397.2 516.8 C399.9 524.5 398.8 521.5 397.6 523.1 C396.5 524.7 392.7 526.7 390.6 526.4 C388.4 526.1 388.7 527.4 384.8 521.0 C380.9 514.6 372.8 498.9 367.1 487.8 C361.4 476.7 352.1 461.5 350.5 454.6 C349.0 447.6 355.2 449.0 357.8 446.3 C360.4 443.5 362.1 432.8 366.1 438.0Z" fill="#b4b3b8"/>
<path d="M254.4 361.1 C256.3 358.0 263.0 352.6 268.5 350.3 C274.0 348.1 279.2 347.2 287.2 347.6 C295.2 348.1 306.6 350.1 316.3 352.8 C326.0 355.6 335.3 359.2 345.3 364.3 C355.4 369.3 366.1 377.2 376.5 382.9 C386.8 388.7 398.3 393.8 407.6 398.5 C417.0 403.2 427.4 407.5 432.5 411.0 C437.6 414.4 438.0 416.4 438.3 419.3 C438.7 422.1 436.6 425.6 434.6 428.0 C432.6 430.4 429.1 432.8 426.3 433.8 C423.5 434.8 422.5 434.8 418.0 433.8 C413.5 432.8 405.5 429.3 399.3 427.6 C393.1 425.8 385.1 422.7 380.6 423.4 C376.1 424.1 376.1 427.2 372.3 431.7 C368.5 436.2 361.6 446.6 357.8 450.4 C354.0 454.2 355.0 455.4 349.5 454.6 C343.9 453.7 332.5 448.3 324.6 445.2 C316.6 442.1 308.6 439.9 301.7 435.9 C294.8 431.9 287.2 425.5 283.0 421.3 C278.9 417.2 278.2 415.1 276.8 411.0 C275.4 406.8 276.5 401.6 274.7 396.4 C273.0 391.2 269.4 384.3 266.4 379.8 C263.5 375.3 259.1 372.6 257.1 369.4 C255.1 366.3 252.5 364.3 254.4 361.1Z" fill="#97979c"/>
<circle cx="332.5" cy="404.3" r="19.7" fill="#f0a54e"/>
<path d="M340.7 386.4 A19.7 19.7 0 0 0 324.2 422.3 Z" fill="#e89a45"/>
<path d="M246.0 462.0 C245.1 462.7 243.0 461.4 240.4 466.0 C237.8 470.6 235.5 480.9 230.5 489.8 C225.5 498.8 215.6 511.4 210.5 519.7 C205.4 528.0 204.3 531.4 199.7 539.7 C195.1 548.0 187.8 559.7 183.1 569.6 C178.4 579.5 177.8 583.1 171.5 599.4 C165.2 615.7 149.4 656.1 145.0 667.5 L138.0 760.0 L132.0 822.0 L222.0 866.0 C223.2 866.3 227.0 868.7 229.0 868.0 C231.0 867.3 233.2 863.0 234.0 862.0 L262.0 808.0 L323.0 712.0 C323.8 708.8 327.2 700.3 327.5 693.0 C327.8 685.7 325.9 675.6 324.5 668.0 C323.1 660.4 320.7 655.1 319.3 647.6 C317.9 640.1 317.4 630.7 316.0 622.7 C314.6 614.7 312.0 607.0 311.0 599.5 C310.0 592.0 309.6 585.2 310.2 578.0 C310.8 570.8 311.7 563.8 314.3 556.3 C316.9 548.8 322.4 539.9 326.0 533.0 C329.6 526.1 334.2 517.8 335.9 514.7 L342.0 500.0Z" fill="#f0a55a"/>
<path d="M171.0 627.0 C171.5 625.8 172.0 621.6 174.0 620.0 C176.0 618.4 181.5 617.9 183.0 617.5 L245.0 646.5 L298.0 680.5 C298.8 681.4 302.2 683.9 303.0 686.0 C303.8 688.1 302.6 691.8 302.5 693.0 L238.0 812.0 C237.3 814.0 236.3 821.3 234.0 824.0 C231.7 826.7 225.7 827.3 224.0 828.0 L100.0 775.0Z" fill="#eadb67"/>
<path d="M242.0 645.0 L298.0 680.5 C298.8 681.4 302.2 683.9 303.0 686.0 C303.8 688.1 302.6 691.8 302.5 693.0 L238.0 812.0 C237.3 814.0 236.3 821.3 234.0 824.0 C231.7 826.7 225.7 827.3 224.0 828.0 L172.0 810.0Z" fill="#f4e878"/>
<path d="M249.4 452.1 L340.8 497.3 L337.4 505.6 L245.3 460.8Z" fill="#eb8838" stroke="#eb8838" stroke-width="15" stroke-linejoin="round"/>
<clipPath id="capclip"><path d="M231.1 433.8 L299.7 467.0 L283.0 496.1 L220.8 475.3Z"/></clipPath>
<path d="M249.4 452.1 L340.8 497.3 L337.4 505.6 L245.3 460.8Z" fill="#e37d33" stroke="#e37d33" stroke-width="15" stroke-linejoin="round" clip-path="url(#capclip)"/></g>
</defs>
<rect width="1445" height="1445" fill="#2f4b72"/>
<g>
<rect x="13.3" y="377.6" width="1418" height="325.7" fill="url(#lg2)"/>
<g clip-path="url(#cp2)"><path d="M930.8 540.9 L1861.7 543.0 L1861.7 541.8Z M1161.8 547.3 L1858.5 560.3 L1859.7 556.1Z M998.7 545.9 L1857.0 564.4 L1858.2 561.2Z M1110.1 556.1 L1844.5 586.2 L1845.4 585.0Z M918.6 551.4 L1829.4 602.9 L1831.5 600.9Z M968.3 555.9 L1820.6 610.8 L1823.4 608.4Z M945.4 556.8 L1807.2 621.2 L1810.1 619.1Z M1145.7 581.8 L1770.8 643.8 L1774.0 642.1Z M1082.2 578.8 L1755.5 651.8 L1759.8 649.6Z M1075.7 586.4 L1712.6 671.1 L1720.1 668.0Z M918.4 567.4 L1698.6 676.6 L1706.0 673.7Z M992.7 584.1 L1655.7 691.9 L1659.2 690.7Z M1148.8 614.6 L1631.0 699.8 L1636.9 698.0Z M1075.6 608.4 L1597.4 709.6 L1600.5 708.7Z M1023.0 610.9 L1520.9 728.8 L1526.7 727.5Z M1040.8 622.4 L1478.5 738.0 L1491.4 735.3Z M901.2 588.8 L1460.0 741.7 L1468.0 740.1Z M984.9 620.2 L1410.8 750.9 L1416.2 749.9Z M885.8 597.1 L1353.7 760.3 L1357.9 759.6Z M933.8 621.2 L1308.5 766.9 L1317.9 765.6Z M984.8 653.7 L1254.6 773.9 L1268.3 772.2Z M904.1 629.0 L1207.2 779.4 L1216.4 778.4Z M850.5 612.3 L1152.2 785.0 L1162.6 784.0Z M866.9 652.8 L1045.9 793.6 L1049.4 793.4Z M819.1 628.2 L1001.7 796.5 L1007.0 796.1Z M801.6 620.5 L973.6 798.0 L980.3 797.7Z M760.7 607.9 L867.3 802.4 L874.3 802.1Z M760.1 658.2 L803.5 803.8 L809.9 803.7Z M731.4 599.3 L758.2 804.4 L767.2 804.3Z M711.5 630.4 L688.7 804.4 L691.9 804.4Z M699.7 663.2 L667.4 804.2 L679.5 804.3Z M697.7 591.2 L589.4 802.7 L599.1 802.9Z M664.7 625.7 L543.8 801.2 L547.5 801.4Z M662.8 595.6 L441.7 796.4 L448.2 796.7Z M584.3 654.3 L410.1 794.4 L417.3 794.9Z M567.8 640.7 L336.4 788.9 L341.2 789.3Z M546.1 631.6 L252.6 781.0 L259.1 781.7Z M605.8 599.3 L244.1 780.1 L249.3 780.6Z M591.5 597.3 L183.6 773.1 L186.7 773.5Z M451.7 643.8 L123.8 765.1 L138.5 767.2Z M561.6 592.4 L55.7 754.5 L59.0 755.1Z M493.3 607.1 L8.6 746.2 L16.2 747.6Z M570.5 581.7 L-20.5 740.6 L-15.7 741.6Z M400.8 616.3 L-79.5 728.0 L-72.8 729.5Z M473.8 595.1 L-106.3 721.6 L-102.3 722.6Z M517.6 580.2 L-153.7 709.2 L-149.5 710.4Z M491.3 580.4 L-194.4 697.2 L-188.2 699.1Z M386.5 588.7 L-246.8 679.2 L-244.9 679.9Z M245.2 601.1 L-279.5 666.1 L-273.4 668.7Z M392.6 580.5 L-288.1 662.3 L-285.8 663.4Z M419.1 573.0 L-314.0 650.1 L-309.2 652.4Z M381.9 568.4 L-352.5 627.9 L-350.3 629.3Z M340.2 565.5 L-375.3 611.0 L-372.8 613.1Z M196.1 572.5 L-380.6 606.4 L-378.2 608.5Z M506.3 549.5 L-399.3 586.4 L-398.0 588.2Z M468.9 547.5 L-409.6 570.0 L-408.0 573.2Z M284.1 548.3 L-414.2 558.1 L-412.4 563.5Z M311.8 544.4 L-415.9 550.2 L-415.6 552.2Z M337.2 537.7 L-416.0 530.8 L-416.3 533.4Z M439.4 534.4 L-411.5 515.2 L-412.0 516.6Z M413.1 531.4 L-406.6 505.4 L-408.7 509.2Z M181.6 512.8 L-389.4 483.1 L-390.4 484.1Z M205.3 512.0 L-384.4 478.0 L-387.2 480.8Z M477.9 523.4 L-366.5 463.0 L-369.3 465.1Z M207.2 495.4 L-338.9 444.6 L-347.7 450.0Z M321.2 501.3 L-324.3 436.3 L-329.9 439.4Z M364.6 501.1 L-305.2 426.6 L-307.5 427.7Z M488.0 508.6 L-258.1 406.1 L-262.2 407.7Z M284.2 475.0 L-229.4 395.5 L-239.9 399.2Z M558.8 513.6 L-204.3 387.0 L-209.5 388.7Z M359.5 473.8 L-167.5 375.7 L-172.7 377.2Z M551.3 506.3 L-136.8 367.2 L-143.3 368.9Z M374.7 458.4 L-72.4 351.4 L-78.8 352.8Z M513.3 487.8 L-44.7 345.4 L-52.4 347.0Z M408.0 444.7 L34.9 330.0 L30.5 330.8Z M439.3 451.5 L50.9 327.2 L41.7 328.8Z M588.7 490.4 L127.9 315.3 L119.1 316.6Z M497.0 440.2 L205.9 305.2 L186.1 307.6Z M487.1 430.3 L222.3 303.3 L212.1 304.5Z M613.4 477.1 L309.9 294.4 L290.4 296.2Z M634.2 479.3 L365.8 289.8 L356.7 290.5Z M581.3 433.6 L396.7 287.5 L381.4 288.6Z M601.4 426.4 L456.5 283.8 L444.2 284.5Z M664.6 462.5 L535.1 280.1 L524.1 280.5Z M698.5 485.1 L614.2 277.7 L603.6 277.9Z M709.6 472.5 L674.3 276.7 L670.4 276.8Z M722.0 468.4 L724.6 276.5 L716.6 276.5Z M736.6 446.8 L765.0 276.7 L759.6 276.6Z M759.2 418.2 L806.0 277.2 L797.2 277.1Z M793.6 440.3 L917.5 280.4 L897.1 279.6Z M783.1 469.8 L949.2 281.8 L939.4 281.3Z M798.8 471.0 L1006.4 284.8 L1000.2 284.5Z M795.6 486.4 L1065.9 288.8 L1059.9 288.3Z M914.7 428.3 L1147.4 295.6 L1138.6 294.7Z M804.9 498.4 L1195.5 300.3 L1190.9 299.8Z M923.1 451.7 L1254.1 307.0 L1247.6 306.2Z M904.5 466.4 L1290.9 311.7 L1281.6 310.5Z M846.4 495.7 L1340.2 318.7 L1334.3 317.8Z M1012.9 448.8 L1400.9 328.4 L1392.5 327.0Z M892.9 491.9 L1442.0 335.8 L1439.5 335.3Z M1064.6 455.4 L1500.5 347.7 L1497.4 347.0Z M917.5 497.7 L1552.7 359.7 L1546.8 358.3Z M1046.9 474.1 L1577.3 366.0 L1575.1 365.4Z M912.6 507.6 L1637.1 383.1 L1633.4 381.9Z M1044.1 492.0 L1678.3 396.8 L1676.3 396.1Z M1035.1 498.2 L1709.0 408.5 L1704.0 406.5Z M1090.0 497.7 L1742.7 423.0 L1737.6 420.7Z M1136.2 496.4 L1759.1 431.0 L1755.8 429.3Z M1204.3 495.9 L1782.4 443.7 L1778.5 441.4Z M993.4 518.3 L1797.7 453.2 L1795.0 451.5Z M1129.4 514.2 L1822.0 471.4 L1817.6 467.7Z M1027.4 523.9 L1833.2 481.8 L1829.9 478.5Z M1168.0 524.5 L1848.6 500.5 L1848.0 499.6Z M1067.9 531.9 L1855.4 512.9 L1854.9 511.7Z M1129.6 537.3 L1861.2 532.8 L1860.9 530.6Z" fill="#1a3156" fill-opacity="0.55"/></g>
<rect x="65.2" y="416.2" width="148.2" height="24.7" rx="12.3" fill="url(#pillg)" stroke="#4c6890" stroke-width="0.7"/>
<text x="78.4" y="437.7" textLength="119.2" lengthAdjust="spacingAndGlyphs" class="pl">WITH FILM</text>
<rect x="933.0" y="416.3" width="190.8" height="24.7" rx="12.3" fill="url(#pillg)" stroke="#4c6890" stroke-width="0.7"/>
<text x="945.9" y="437.7" textLength="169.1" lengthAdjust="spacingAndGlyphs" class="pl">WITHOUT FILM</text>
<rect x="13.3" y="377.6" width="1418" height="325.7" fill="none" stroke="#fff" stroke-width="2.3"/>
</g>
<g>
<use href="#bottle"/>
<text class="lb" transform="translate(209.8 529.3) rotate(27.5)" textLength="31.5" lengthAdjust="spacingAndGlyphs">Use</text>
<text class="lb" transform="translate(200.1 548.3) rotate(27.5)" textLength="118.6" lengthAdjust="spacingAndGlyphs">Non-corrosive,</text>
<text class="lb" transform="translate(189.6 566.6) rotate(27.5)" textLength="118.9" lengthAdjust="spacingAndGlyphs">Ammonia-free</text>
<text class="lb" transform="translate(181.2 584.7) rotate(27.5)" textLength="110.9" lengthAdjust="spacingAndGlyphs">Glass cleaner</text>
<path d="M159.3 571.5 L180.1 573.9 L145.9 663.3 L151.5 671.7 L266.7 658.7 L360.1 645.3 L367.0 646.2 L370.1 650.2 L365.8 656.2 L297.9 683.6 L262.0 699.1 L294.7 710.0 L346.1 717.8 L336.8 739.6 L282.3 806.6 L234.0 805.0 L216.9 814.4 L139.0 823.7 L140.0 760.0 L40.0 760.0 L73.0 745.0 L76.5 725.0 L81.4 699.1 L86.1 668.0Z" fill="#fad3a0" stroke="#fad3a0" stroke-width="1.5" stroke-linejoin="round"/>
<path d="M0 802 L12.2 797 L12.2 900.5 L0 899Z" fill="#fad3a0"/>
</g>
<g transform="translate(0 0.0)">
<g clip-path="url(#cp1)">
<rect x="12" y="8" width="380" height="329" fill="url(#lg)"/>
<rect x="390.2" y="9" width="13.6" height="329" fill="#000"/>
<rect x="403.8" y="9" width="6.4" height="329" fill="#a9a9a9"/>
<rect x="410.2" y="9" width="326" height="329" fill="#6582a3"/>
<g filter="url(#foam)"><use href="#foambias"/></g>
<use href="#bubbles"/>
<rect x="641.2" y="9" width="5.8" height="327" fill="#a9a9a9" opacity="0.75"/>
<rect x="668.8" y="9" width="5.7" height="327" fill="#c9c9c9"/>
<path d="M444.8 242.7 L606.6 248.4 L606.6 256.6 L444.8 250.4Z" fill="#000"/>
<use href="#wbody"/><path d="M423.5 144.0 L439.4 147.3 L454.9 162.1 L446.0 161.7 L437.2 155.5 L432.8 159.0 L424.6 155.5Z" fill="#97979c"/>
<path d="M436.8 155.5 L445.6 172.8 L442.9 173.9 L434.5 158.4Z" fill="#b4b3b8"/>
<path d="M439.4 152.8 L455.6 161.7 L453.4 164.4 L437.9 156.2Z" fill="#b4b3b8"/>
<circle cx="433.4" cy="151.1" r="2.6" fill="#f0a54e"/>
<path d="M420.8 156.8 L435.6 163.5 L430.6 183.8 L424.6 212.6 L416.8 216.6 L409.1 213.1 L406.2 186.1Z" fill="#f0a55a"/>
<path d="M421.3 155.9 L436.8 162.8 L434.5 167.9 L419.5 160.8Z" fill="#eb8838"/>
<path d="M406.9 184.9 L414.6 180.5 L430.6 188.3 L429.0 196.0 L405.8 193.8Z" fill="#eadb67"/>
<rect x="-2.8" y="-0.95" width="5.6" height="1.9" rx="0.9" fill="#f0a55a" transform="translate(472.7 151.5) rotate(-85)"/>
<rect x="-2.8" y="-0.95" width="5.6" height="1.9" rx="0.9" fill="#f0a55a" transform="translate(465.1 159.8) rotate(-80)"/>
<rect x="-2.8" y="-0.95" width="5.6" height="1.9" rx="0.9" fill="#f0a55a" transform="translate(472.7 159.8) rotate(-85)"/>
<rect x="-2.8" y="-0.95" width="5.6" height="1.9" rx="0.9" fill="#f0a55a" transform="translate(458.9 163.3) rotate(-75)"/>
<rect x="-2.8" y="-0.95" width="5.6" height="1.9" rx="0.9" fill="#f0a55a" transform="translate(456.1 170.9) rotate(-40)"/>
<rect x="-2.8" y="-0.95" width="5.6" height="1.9" rx="0.9" fill="#f0a55a" transform="translate(465.1 168.8) rotate(-60)"/>
<rect x="-2.8" y="-0.95" width="5.6" height="1.9" rx="0.9" fill="#f0a55a" transform="translate(470.7 169.5) rotate(-75)"/>
<rect x="-2.8" y="-0.95" width="5.6" height="1.9" rx="0.9" fill="#f0a55a" transform="translate(445.7 175.7) rotate(-20)"/>
<rect x="-2.8" y="-0.95" width="5.6" height="1.9" rx="0.9" fill="#f0a55a" transform="translate(459.6 175.7) rotate(-45)"/>
<rect x="-2.8" y="-0.95" width="5.6" height="1.9" rx="0.9" fill="#f0a55a" transform="translate(452.0 182.0) rotate(-30)"/>
<rect x="-2.8" y="-0.95" width="5.6" height="1.9" rx="0.9" fill="#f0a55a" transform="translate(466.5 178.5) rotate(-55)"/>
<rect x="-2.8" y="-0.95" width="5.6" height="1.9" rx="0.9" fill="#f0a55a" transform="translate(443.7 185.1) rotate(-10)"/>
<rect x="-2.8" y="-0.95" width="5.6" height="1.9" rx="0.9" fill="#f0a55a" transform="translate(461.0 185.4) rotate(-35)"/>
<rect x="-2.8" y="-0.95" width="5.6" height="1.9" rx="0.9" fill="#f0a55a" transform="translate(453.4 189.6) rotate(-25)"/>
<rect x="-2.8" y="-0.95" width="5.6" height="1.9" rx="0.9" fill="#f0a55a" transform="translate(445.1 194.4) rotate(-10)"/><use href="#warm1"/>
</g>
<rect x="13.3" y="10" width="722.2" height="324.8" fill="none" stroke="#fff" stroke-width="2.3"/>
</g>
<g transform="translate(0 728.6)">
<g clip-path="url(#cp3)">
<rect x="12" y="8" width="380" height="328.3" fill="url(#lg)"/>
<rect x="390.2" y="9" width="13.6" height="328.3" fill="#000"/>
<rect x="403.8" y="9" width="6.4" height="328.3" fill="#a9a9a9"/>
<rect x="410.2" y="9" width="326" height="328.3" fill="#6582a3"/>
<g filter="url(#foam)"><use href="#foambias"/></g>
<use href="#bubbles"/>
<rect x="641.2" y="9" width="5.8" height="326.3" fill="#a9a9a9" opacity="0.75"/>
<rect x="668.8" y="9" width="5.7" height="326.3" fill="#c9c9c9"/>
<path d="M547.7 28.3 L620.7 97.4 L519.6 199.8 L437.6 125.6Z" fill="#6582a3"/>
<path d="M464.5 178.1 L513.1 203.7 L495.2 215.2Z" fill="#6582a3" opacity="0.8"/>
<path d="M430.7 128.9 L436.8 123.8 L520.3 198.1 L514.2 204.2Z" fill="#2c47c5"/>
<path d="M437.4 124.3 L520.1 198.1" stroke="#e9d36a" stroke-width="0.8" fill="none"/>
<path d="M512.6 200.6 L518.8 196.5 L521.3 201.1 L515.2 205.2Z" fill="#e8c93a"/>
<path d="M453.0 149.9 L459.9 145.3 L490.6 173.5 L487.0 181.2 L465.8 178.1 L442.7 192.2 L432.5 187.0 L448.6 165.3Z" fill="#ec6b62"/>
<path d="M458.1 158.9 L473.5 171.7 L461.4 173.5Z" fill="#6582a3"/>
<path d="M445.3 171.7 L456.3 164.0 L459.9 169.1 L449.6 176.8Z" fill="#1a1f5c"/>
<path d="M432.5 187.0 L441.5 194.0 L414.6 207.5 L407.7 202.4Z" fill="#1a1f5c"/><path d="M444.8 255.7 L607.9 261.3 L607.9 270.2 L444.8 263.7Z" fill="#000"/>
<g transform="translate(0 12.2)"><use href="#wbody"/><use href="#warm1"/></g>
</g>
<rect x="13.3" y="10" width="722.2" height="324.1" fill="none" stroke="#fff" stroke-width="2.3"/>
</g>
<g transform="translate(0 1089.0)">
<g clip-path="url(#cp4)">
<rect x="12" y="8" width="380" height="339.8" fill="url(#lg)"/>
<rect x="390.2" y="9" width="13.6" height="339.8" fill="#000"/>
<rect x="403.8" y="9" width="6.4" height="339.8" fill="#a9a9a9"/>
<rect x="410.2" y="9" width="326" height="339.8" fill="#6582a3"/>
<rect x="639.4" y="9" width="5.6" height="337.8" fill="#a0a0a0"/>
<rect x="666.8" y="9" width="5.9" height="337.8" fill="#cfcfcf"/>
<path d="M410.2 279.6 L639.4 46.6 L639.4 89.3 L410.2 322.3Z" fill="#7a93b2" opacity="0.33"/>
<path d="M464.5 345.4 L666.8 140.6 L666.8 164.9 L492.7 345.4Z" fill="#7a93b2" opacity="0.28"/><circle cx="433.3" cy="70.6" r="11.1" fill="url(#glow)"/><path d="M433.3 52.4 L434.6 69.3 L451.0 70.6 L434.6 72.0 L433.3 89.6 L431.9 72.0 L415.5 70.6 L431.9 69.3Z" fill="#fff"/><path d="M438.6 65.3 L434.3 70.6 L438.6 76.0 L433.3 71.7 L427.9 76.0 L432.2 70.6 L427.9 65.3 L433.3 69.6Z" fill="#fff" opacity="0.85"/>
<circle cx="537.5" cy="45.8" r="6.0" fill="url(#glow)"/><path d="M537.5 36.4 L538.3 45.0 L546.6 45.8 L538.3 46.6 L537.5 55.6 L536.7 46.6 L528.3 45.8 L536.7 45.0Z" fill="#fff"/><path d="M540.2 43.0 L538.1 45.8 L540.2 48.6 L537.5 46.4 L534.7 48.6 L536.8 45.8 L534.7 43.0 L537.5 45.2Z" fill="#fff" opacity="0.85"/>
<circle cx="560.5" cy="54.8" r="2.2" fill="url(#glow)"/><path d="M560.5 52.0 L560.9 54.4 L563.2 54.8 L560.9 55.2 L560.5 57.6 L560.1 55.2 L557.8 54.8 L560.1 54.4Z" fill="#fff"/>
<circle cx="615.1" cy="45.0" r="1.9" fill="url(#glow)"/><path d="M615.1 42.8 L615.4 44.7 L617.2 45.0 L615.4 45.4 L615.1 47.3 L614.7 45.4 L612.9 45.0 L614.7 44.7Z" fill="#fff"/>
<circle cx="514.4" cy="88.1" r="5.4" fill="url(#glow)"/><path d="M514.4 79.8 L515.1 87.3 L522.5 88.1 L515.1 88.8 L514.4 96.7 L513.7 88.8 L506.4 88.1 L513.7 87.3Z" fill="#fff"/><path d="M516.9 85.6 L515.0 88.1 L516.9 90.5 L514.4 88.6 L512.0 90.5 L513.9 88.1 L512.0 85.6 L514.4 87.5Z" fill="#fff" opacity="0.85"/>
<circle cx="472.2" cy="103.4" r="3.8" fill="url(#glow)"/><path d="M472.2 97.9 L472.7 102.9 L477.6 103.4 L472.7 104.0 L472.2 109.2 L471.6 104.0 L466.8 103.4 L471.6 102.9Z" fill="#fff"/>
<circle cx="421.0" cy="110.6" r="1.9" fill="url(#glow)"/><path d="M421.0 108.4 L421.3 110.2 L423.1 110.6 L421.3 110.9 L421.0 112.9 L420.6 110.9 L418.8 110.6 L420.6 110.2Z" fill="#fff"/>
<circle cx="498.6" cy="120.1" r="9.8" fill="url(#glow)"/><path d="M498.6 104.0 L499.7 118.9 L514.1 120.1 L499.7 121.3 L498.6 136.7 L497.4 121.3 L483.0 120.1 L497.4 118.9Z" fill="#fff"/><path d="M503.3 115.3 L499.5 120.1 L503.3 124.8 L498.6 121.0 L493.8 124.8 L497.6 120.1 L493.8 115.3 L498.6 119.1Z" fill="#fff" opacity="0.85"/>
<circle cx="587.9" cy="115.7" r="3.8" fill="url(#glow)"/><path d="M587.9 110.2 L588.5 115.2 L593.3 115.7 L588.5 116.3 L587.9 121.4 L587.4 116.3 L582.5 115.7 L587.4 115.2Z" fill="#fff"/>
<circle cx="624.5" cy="112.9" r="10.8" fill="url(#glow)"/><path d="M624.5 95.2 L625.8 111.6 L641.7 112.9 L625.8 114.2 L624.5 131.3 L623.2 114.2 L607.3 112.9 L623.2 111.6Z" fill="#fff"/><path d="M629.7 107.7 L625.6 112.9 L629.7 118.1 L624.5 113.9 L619.3 118.1 L623.5 112.9 L619.3 107.7 L624.5 111.9Z" fill="#fff" opacity="0.85"/>
<circle cx="535.4" cy="130.3" r="2.2" fill="url(#glow)"/><path d="M535.4 127.5 L535.8 129.9 L538.1 130.3 L535.8 130.7 L535.4 133.2 L535.0 130.7 L532.7 130.3 L535.0 129.9Z" fill="#fff"/>
<circle cx="447.1" cy="148.2" r="6.3" fill="url(#glow)"/><path d="M447.1 138.3 L447.9 147.4 L456.8 148.2 L447.9 149.1 L447.1 158.6 L446.3 149.1 L437.4 148.2 L446.3 147.4Z" fill="#fff"/><path d="M450.0 145.3 L447.7 148.2 L450.0 151.2 L447.1 148.9 L444.2 151.2 L446.4 148.2 L444.2 145.3 L447.1 147.6Z" fill="#fff" opacity="0.85"/>
<circle cx="662.9" cy="145.7" r="3.8" fill="url(#glow)"/><path d="M662.9 140.1 L663.5 145.1 L668.3 145.7 L663.5 146.2 L662.9 151.4 L662.4 146.2 L657.6 145.7 L662.4 145.1Z" fill="#fff"/>
<circle cx="705.2" cy="130.3" r="5.4" fill="url(#glow)"/><path d="M705.2 122.0 L705.9 129.6 L713.3 130.3 L705.9 131.0 L705.2 138.9 L704.5 131.0 L697.1 130.3 L704.5 129.6Z" fill="#fff"/><path d="M707.6 127.9 L705.8 130.3 L707.6 132.8 L705.2 130.9 L702.7 132.8 L704.6 130.3 L702.7 127.9 L705.2 129.7Z" fill="#fff" opacity="0.85"/>
<circle cx="689.8" cy="162.3" r="9.5" fill="url(#glow)"/><path d="M689.8 146.8 L691.0 161.2 L704.9 162.3 L691.0 163.5 L689.8 178.4 L688.7 163.5 L674.8 162.3 L688.7 161.2Z" fill="#fff"/><path d="M694.4 157.8 L690.7 162.3 L694.4 166.9 L689.8 163.2 L685.3 166.9 L688.9 162.3 L685.3 157.8 L689.8 161.4Z" fill="#fff" opacity="0.85"/>
<circle cx="530.3" cy="181.5" r="11.1" fill="url(#glow)"/><path d="M530.3 163.3 L531.6 180.2 L548.0 181.5 L531.6 182.8 L530.3 200.4 L529.0 182.8 L512.6 181.5 L529.0 180.2Z" fill="#fff"/><path d="M535.7 176.1 L531.4 181.5 L535.7 186.9 L530.3 182.6 L524.9 186.9 L529.2 181.5 L524.9 176.1 L530.3 180.5Z" fill="#fff" opacity="0.85"/>
<circle cx="637.3" cy="190.5" r="6.3" fill="url(#glow)"/><path d="M637.3 180.5 L638.2 189.7 L647.0 190.5 L638.2 191.3 L637.3 200.8 L636.5 191.3 L627.7 190.5 L636.5 189.7Z" fill="#fff"/><path d="M640.3 187.5 L638.0 190.5 L640.3 193.4 L637.3 191.1 L634.4 193.4 L636.7 190.5 L634.4 187.5 L637.3 189.8Z" fill="#fff" opacity="0.85"/>
<circle cx="429.9" cy="196.9" r="2.0" fill="url(#glow)"/><path d="M429.9 194.4 L430.3 196.5 L432.4 196.9 L430.3 197.3 L429.9 199.5 L429.6 197.3 L427.5 196.9 L429.6 196.5Z" fill="#fff"/>
<circle cx="466.3" cy="292.4" r="11.1" fill="url(#glow)"/><path d="M466.3 274.1 L467.6 291.1 L484.0 292.4 L467.6 293.7 L466.3 311.3 L465.0 293.7 L448.5 292.4 L465.0 291.1Z" fill="#fff"/><path d="M471.7 287.0 L467.3 292.4 L471.7 297.8 L466.3 293.4 L460.9 297.8 L465.2 292.4 L460.9 287.0 L466.3 291.3Z" fill="#fff" opacity="0.85"/>
<circle cx="547.2" cy="310.1" r="5.4" fill="url(#glow)"/><path d="M547.2 301.8 L547.9 309.3 L555.3 310.1 L547.9 310.8 L547.2 318.7 L546.5 310.8 L539.1 310.1 L546.5 309.3Z" fill="#fff"/><path d="M549.6 307.6 L547.8 310.1 L549.6 312.5 L547.2 310.6 L544.8 312.5 L546.6 310.1 L544.8 307.6 L547.2 309.5Z" fill="#fff" opacity="0.85"/>
<circle cx="505.5" cy="325.4" r="3.8" fill="url(#glow)"/><path d="M505.5 319.9 L506.0 324.9 L510.8 325.4 L506.0 326.0 L505.5 331.2 L504.9 326.0 L500.1 325.4 L504.9 324.9Z" fill="#fff"/>
<circle cx="452.5" cy="330.0" r="1.9" fill="url(#glow)"/><path d="M452.5 327.8 L452.8 329.7 L454.6 330.0 L452.8 330.4 L452.5 332.3 L452.1 330.4 L450.3 330.0 L452.1 329.7Z" fill="#fff"/>
<circle cx="532.4" cy="341.6" r="9.5" fill="url(#glow)"/><path d="M532.4 326.1 L533.5 340.4 L547.4 341.6 L533.5 342.7 L532.4 357.6 L531.2 342.7 L517.3 341.6 L531.2 340.4Z" fill="#fff"/><path d="M536.9 337.0 L533.3 341.6 L536.9 346.1 L532.4 342.5 L527.8 346.1 L531.4 341.6 L527.8 337.0 L532.4 340.6Z" fill="#fff" opacity="0.85"/>
<circle cx="620.2" cy="336.4" r="5.7" fill="url(#glow)"/><path d="M620.2 327.6 L620.9 335.7 L628.8 336.4 L620.9 337.2 L620.2 345.6 L619.4 337.2 L611.6 336.4 L619.4 335.7Z" fill="#fff"/><path d="M622.8 333.8 L620.8 336.4 L622.8 339.0 L620.2 337.0 L617.6 339.0 L619.6 336.4 L617.6 333.8 L620.2 335.8Z" fill="#fff" opacity="0.85"/>
<circle cx="593.8" cy="275.7" r="2.0" fill="url(#glow)"/><path d="M593.8 273.3 L594.2 275.4 L596.2 275.7 L594.2 276.1 L593.8 278.3 L593.4 276.1 L591.4 275.7 L593.4 275.4Z" fill="#fff"/>
<circle cx="648.3" cy="266.0" r="1.9" fill="url(#glow)"/><path d="M648.3 263.8 L648.7 265.7 L650.5 266.0 L648.7 266.4 L648.3 268.3 L648.0 266.4 L646.2 266.0 L648.0 265.7Z" fill="#fff"/>
<circle cx="570.2" cy="260.9" r="2.8" fill="url(#glow)"/><path d="M570.2 257.0 L570.7 260.4 L574.0 260.9 L570.7 261.3 L570.2 264.9 L569.8 261.3 L566.5 260.9 L569.8 260.4Z" fill="#fff"/>
<circle cx="624.5" cy="131.6" r="2.5" fill="url(#glow)"/><path d="M624.5 128.3 L625.0 131.2 L627.8 131.6 L625.0 132.0 L624.5 135.0 L624.1 132.0 L621.3 131.6 L624.1 131.2Z" fill="#fff"/>
<circle cx="342.6" cy="111.0" r="6.2" fill="url(#glow)"/><path d="M342.6 101.3 L343.4 110.2 L352.1 111.0 L343.4 111.8 L342.6 121.1 L341.8 111.8 L333.2 111.0 L341.8 110.2Z" fill="#fff"/><path d="M345.5 108.1 L343.2 111.0 L345.5 113.9 L342.6 111.6 L339.7 113.9 L342.0 111.0 L339.7 108.1 L342.6 110.4Z" fill="#fff" opacity="0.85"/>
<circle cx="366.0" cy="120.5" r="2.5" fill="url(#glow)"/><path d="M366.0 117.3 L366.4 120.1 L369.1 120.5 L366.4 120.9 L366.0 123.9 L365.6 120.9 L362.9 120.5 L365.6 120.1Z" fill="#fff"/>
<circle cx="341.0" cy="195.7" r="2.5" fill="url(#glow)"/><path d="M341.0 192.5 L341.4 195.3 L344.1 195.7 L341.4 196.1 L341.0 199.1 L340.6 196.1 L337.9 195.7 L340.6 195.3Z" fill="#fff"/>
<circle cx="374.7" cy="330.7" r="5.6" fill="url(#glow)"/><path d="M374.7 322.1 L375.4 330.0 L383.1 330.7 L375.4 331.4 L374.7 339.7 L374.0 331.4 L366.3 330.7 L374.0 330.0Z" fill="#fff"/><path d="M377.2 328.2 L375.3 330.7 L377.2 333.2 L374.7 331.3 L372.2 333.2 L374.1 330.7 L372.2 328.2 L374.7 330.1Z" fill="#fff" opacity="0.85"/>
<circle cx="429.8" cy="196.8" r="2.5" fill="url(#glow)"/><path d="M429.8 193.6 L430.2 196.4 L432.9 196.8 L430.2 197.2 L429.8 200.2 L429.4 197.2 L426.7 196.8 L429.4 196.4Z" fill="#fff"/>
<circle cx="196.0" cy="339.0" r="2.5" fill="url(#glow)"/><path d="M196.0 335.8 L196.4 338.6 L199.2 339.0 L196.4 339.4 L196.0 342.4 L195.6 339.4 L192.8 339.0 L195.6 338.6Z" fill="#fff"/><path d="M444 258.3 L604.8 264.2 L604.8 273.2 L444 266.7Z" fill="#000"/>
<g transform="translate(2 17.7)"><use href="#wbody"/></g><path d="M406.6 172.0 L422.5 179.5 L410.2 215.6 L396.9 209.7Z" fill="#5fcfa6" stroke="#5fcfa6" stroke-width="9" stroke-linejoin="round"/>
<path d="M404.3 177.7 L400.5 205.8" fill="none" stroke="#8fe3c4" stroke-width="1.6" stroke-dasharray="3 4" stroke-linecap="round"/>
<path d="M412.0 175.1 L405.6 211.0" fill="none" stroke="#3fb58c" stroke-width="1.6" stroke-dasharray="3 4" stroke-linecap="round"/>
<path d="M419.7 177.7 L412.0 213.5" fill="none" stroke="#8fe3c4" stroke-width="1.6" stroke-dasharray="3 4" stroke-linecap="round"/><g transform="translate(2 17.7)"><use href="#warm4"/></g>
</g>
<rect x="13.3" y="10" width="722.2" height="335.6" fill="none" stroke="#fff" stroke-width="2.3"/>
</g>
<g transform="translate(894.7 6.4)">
<use href="#bottle"/>
<text class="lb" transform="translate(203.5 551.2) rotate(25.5)" textLength="31.5" lengthAdjust="spacingAndGlyphs">Use</text>
<text class="lb" transform="translate(193.5 569.9) rotate(25.5)" textLength="66.0" lengthAdjust="spacingAndGlyphs">Regular</text>
<text class="lb" transform="translate(184.8 587.6) rotate(25.5)" textLength="110.9" lengthAdjust="spacingAndGlyphs">Glass cleaner</text>
<path d="M159.3 571.5 L180.1 573.9 L145.9 663.3 L151.5 671.7 L266.7 658.7 L360.1 645.3 L367.0 646.2 L370.1 650.2 L365.8 656.2 L297.9 683.6 L262.0 699.1 L294.7 710.0 L346.1 717.8 L336.8 739.6 L282.3 806.6 L234.0 805.0 L216.9 814.4 L139.0 823.7 L32.5 919.6 L-41.0 852.4 L70.5 755.2 L75.2 730.3 L81.4 699.1 L86.1 668.0Z" fill="url(#wristfade)"/>
</g>
<text class="h" y="162.6"><tspan x="762.6" textLength="130.4" lengthAdjust="spacingAndGlyphs">SPRAY</tspan> <tspan x="906.2" textLength="78.4" lengthAdjust="spacingAndGlyphs">THE</tspan> <tspan x="999.5" textLength="129.3" lengthAdjust="spacingAndGlyphs">GLASS</tspan> <tspan x="1140.8" textLength="186.6" lengthAdjust="spacingAndGlyphs">CLEANER</tspan></text>
<text class="h" y="237.6"><tspan x="762.6" textLength="117.1" lengthAdjust="spacingAndGlyphs">ONTO</tspan> <tspan x="892.9" textLength="78.8" lengthAdjust="spacingAndGlyphs">THE</tspan> <tspan x="986.2" textLength="164.4" lengthAdjust="spacingAndGlyphs">MIRROR</tspan> <tspan x="1163.8" textLength="129.2" lengthAdjust="spacingAndGlyphs">DOOR,</tspan></text>
<text class="h" y="313.1"><tspan x="760.9" textLength="202.3" lengthAdjust="spacingAndGlyphs">AVOIDING</tspan> <tspan x="976.5" textLength="164.4" lengthAdjust="spacingAndGlyphs">EXCESS.</tspan></text>
<text class="h" y="562.1"><tspan x="535.5" textLength="106.8" lengthAdjust="spacingAndGlyphs">WITH</tspan> <tspan x="655.5" textLength="184.1" lengthAdjust="spacingAndGlyphs">COATING</tspan> <tspan x="852.2" textLength="57.4" lengthAdjust="spacingAndGlyphs">OR</tspan></text>
<text class="h" y="637.2"><tspan x="505.8" textLength="305.7" lengthAdjust="spacingAndGlyphs">ANTI-SHATTER</tspan> <tspan x="824.2" textLength="114.0" lengthAdjust="spacingAndGlyphs">FILM?</tspan></text>
<text class="h" y="888.2"><tspan x="763.2" textLength="101.9" lengthAdjust="spacingAndGlyphs">WIPE</tspan> <tspan x="878.4" textLength="58.2" lengthAdjust="spacingAndGlyphs">OR</tspan> <tspan x="948.6" textLength="217.5" lengthAdjust="spacingAndGlyphs">SQUEEGEE</tspan> <tspan x="1180.2" textLength="116.2" lengthAdjust="spacingAndGlyphs">FROM</tspan> <tspan x="1308.0" textLength="84.0" lengthAdjust="spacingAndGlyphs">TOP</tspan></text>
<text class="h" y="963.3"><tspan x="763.2" textLength="53.4" lengthAdjust="spacingAndGlyphs">TO</tspan> <tspan x="831.1" textLength="175.7" lengthAdjust="spacingAndGlyphs">BOTTOM</tspan> <tspan x="1019.2" textLength="104.4" lengthAdjust="spacingAndGlyphs">WITH</tspan> <tspan x="1136.8" textLength="28.0" lengthAdjust="spacingAndGlyphs">A</tspan> <tspan x="1176.7" textLength="255.2" lengthAdjust="spacingAndGlyphs">MICROFIBER</tspan></text>
<text class="h" y="1038.9"><tspan x="764.0" textLength="136.3" lengthAdjust="spacingAndGlyphs">CLOTH</tspan> <tspan x="913.5" textLength="58.2" lengthAdjust="spacingAndGlyphs">OR</tspan> <tspan x="983.7" textLength="198.6" lengthAdjust="spacingAndGlyphs">SCRAPER.</tspan></text>
<text class="h" y="1257.9"><tspan x="761.2" textLength="135.9" lengthAdjust="spacingAndGlyphs">FINISH</tspan> <tspan x="910.7" textLength="106.0" lengthAdjust="spacingAndGlyphs">WITH</tspan> <tspan x="1028.5" textLength="27.5" lengthAdjust="spacingAndGlyphs">A</tspan> <tspan x="1066.5" textLength="130.6" lengthAdjust="spacingAndGlyphs">CLEAN</tspan> <tspan x="1210.7" textLength="137.1" lengthAdjust="spacingAndGlyphs">CLOTH</tspan></text>
<text class="h" y="1333.1"><tspan x="760.5" textLength="58.1" lengthAdjust="spacingAndGlyphs">OR</tspan> <tspan x="832.2" textLength="132.7" lengthAdjust="spacingAndGlyphs">PAPER</tspan> <tspan x="976.2" textLength="143.7" lengthAdjust="spacingAndGlyphs">TOWEL</tspan> <tspan x="1131.0" textLength="55.6" lengthAdjust="spacingAndGlyphs">TO</tspan> <tspan x="1200.0" textLength="164.5" lengthAdjust="spacingAndGlyphs">ENSURE</tspan></text>
<text class="h" y="1408.4"><tspan x="758.7" textLength="27.5" lengthAdjust="spacingAndGlyphs">A</tspan> <tspan x="797.2" textLength="277.8" lengthAdjust="spacingAndGlyphs">STREAK-FREE</tspan> <tspan x="1088.2" textLength="135.4" lengthAdjust="spacingAndGlyphs">SHINE.</tspan></text>
<circle cx="1073.0" cy="55.0" r="45.3" fill="#fff"/><text class="num" x="1073.0" y="74.3">1</text>
<circle cx="722.4" cy="461.4" r="45.3" fill="#fff"/><text class="num" x="722.4" y="480.7">2</text>
<circle cx="1074.2" cy="785.0" r="45.3" fill="#fff"/><text class="num" x="1074.2" y="804.3">3</text>
<circle cx="1071.8" cy="1151.2" r="45.3" fill="#fff"/><text class="num" x="1071.8" y="1170.5">4</text>
<text class="w" y="1090.9"><tspan x="12.6" textLength="116.4" lengthAdjust="spacingAndGlyphs">Welcome</tspan> <tspan x="137.4" textLength="22.5" lengthAdjust="spacingAndGlyphs">to</tspan> <tspan x="168.0" textLength="166.4" lengthAdjust="spacingAndGlyphs">Allsumhome!</tspan> <tspan x="343.1" textLength="137.9" lengthAdjust="spacingAndGlyphs">Questions?</tspan> <tspan x="489.7" textLength="68.0" lengthAdjust="spacingAndGlyphs">Email</tspan> <tspan x="566.1" textLength="289.9" lengthAdjust="spacingAndGlyphs" fill="#7eb6de" stroke="#7eb6de">sales@exbriteusa.com!</tspan></text>
<path d="M860.7 1070.9 L871.8 1052.1 L877.5 1057.5Z M865.4 1081.4 L894.1 1071.8 L895 1082.3Z M861.6 1092.5 L882.3 1105.3 L875 1111.6Z" fill="#f9be4d"/>
</svg>
</body>
</html>
